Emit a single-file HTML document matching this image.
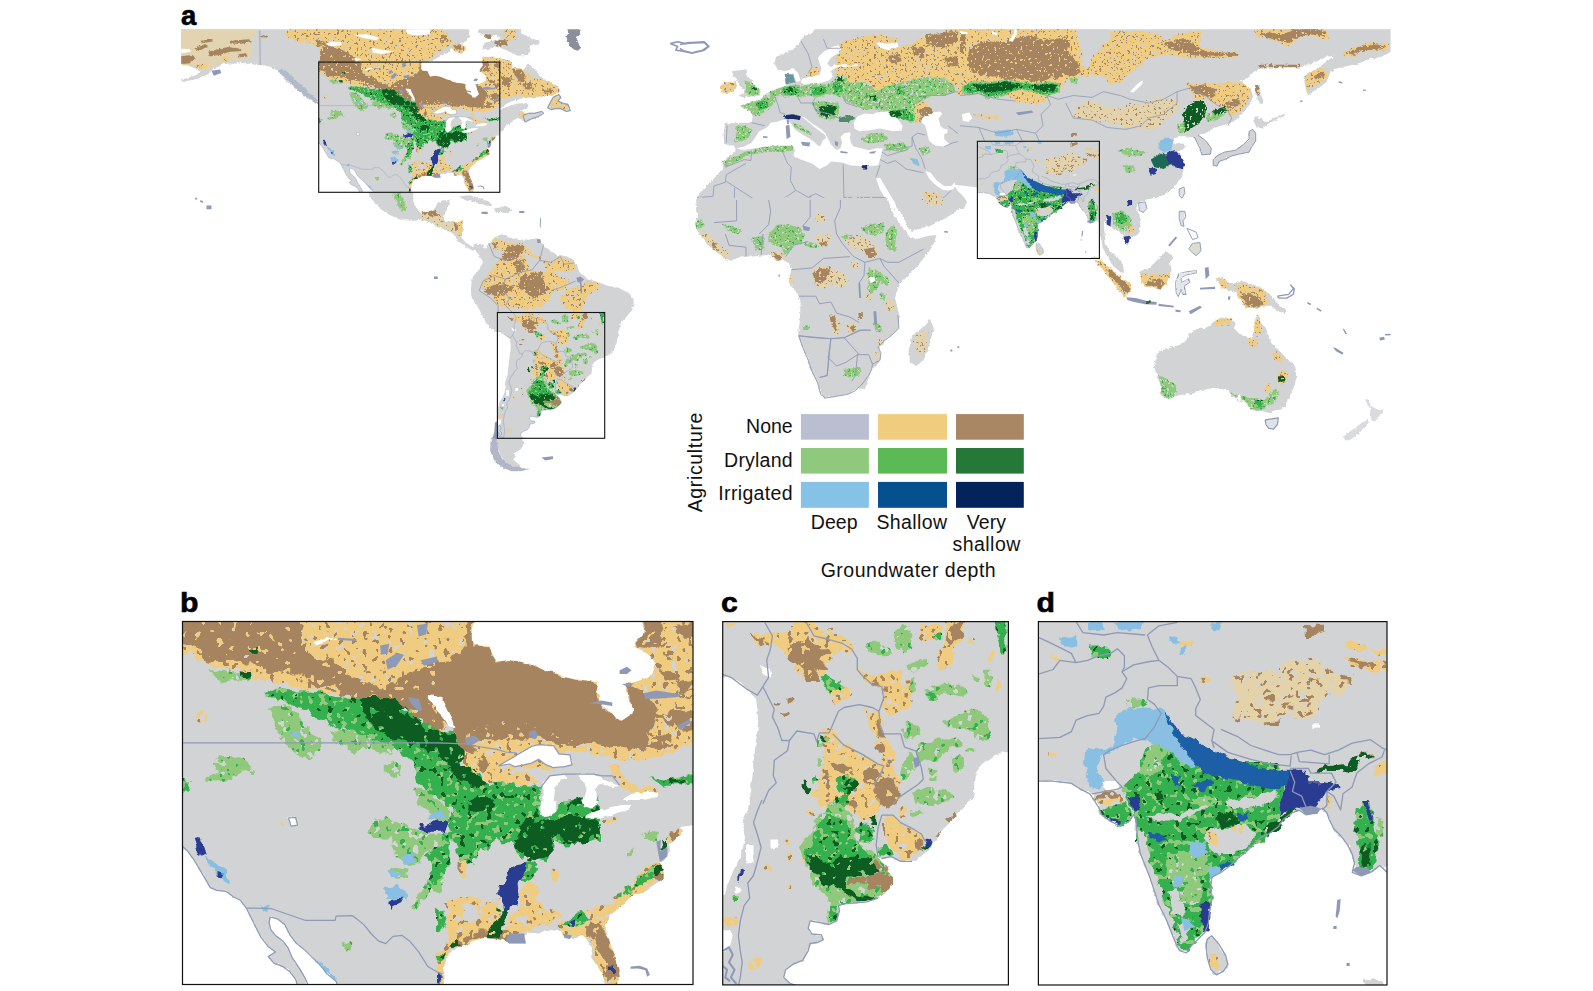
<!DOCTYPE html>
<html lang="en"><head><meta charset="utf-8"><title>Groundwater depth and agriculture</title>
<style>html,body{margin:0;padding:0;background:#fff}body{width:1593px;height:991px;overflow:hidden}svg{display:block}text{font-family:"Liberation Sans",sans-serif;fill:#111}.lab{font-weight:bold;font-size:27.5px;fill:#000;stroke:#000;stroke-width:0.6px}</style></head><body>
<svg width="1593" height="991" viewBox="0 0 1593 991">
<defs>
<filter id="f1" x="-3%" y="-3%" width="106%" height="106%">
 <feTurbulence type="fractalNoise" baseFrequency="0.090" numOctaves="2" seed="3" result="n"/>
 <feDisplacementMap in="SourceGraphic" in2="n" scale="14.0" xChannelSelector="R" yChannelSelector="G" result="d"/>
 
 <feTurbulence type="fractalNoise" baseFrequency="0.160" numOctaves="2" seed="17" result="s1n"/>
 <feColorMatrix in="s1n" type="matrix" values="0 0 0 0 0  0 0 0 0 0  0 0 0 0 0  40 0 0 0 -25.80" result="s1m"/>
 <feFlood flood-color="#a6845f" result="s1f"/>
 <feComposite in="s1f" in2="s1m" operator="in" result="s1c"/>
 <feComposite in="s1c" in2="d" operator="in" result="s1"/>
 
 <feTurbulence type="fractalNoise" baseFrequency="0.140" numOctaves="2" seed="29" result="s2n"/>
 <feColorMatrix in="s2n" type="matrix" values="0 0 0 0 0  0 0 0 0 0  0 0 0 0 0  40 0 0 0 -26.40" result="s2m"/>
 <feFlood flood-color="#d2d3d4" result="s2f"/>
 <feComposite in="s2f" in2="s2m" operator="in" result="s2c"/>
 <feComposite in="s2c" in2="d" operator="in" result="s2"/>
 <feMerge><feMergeNode in="d"/><feMergeNode in="s2"/><feMergeNode in="s1"/></feMerge>
</filter>
<filter id="f2" x="-3%" y="-3%" width="106%" height="106%">
 <feTurbulence type="fractalNoise" baseFrequency="0.090" numOctaves="2" seed="11" result="n"/>
 <feDisplacementMap in="SourceGraphic" in2="n" scale="14.0" xChannelSelector="R" yChannelSelector="G" result="d"/>
 <feTurbulence type="fractalNoise" baseFrequency="0.130" numOctaves="2" seed="5" result="n2"/>
 <feColorMatrix in="n2" type="matrix" values="0 0 0 0 0  0 0 0 0 0  0 0 0 0 0  40 0 0 0 -26.5" result="m"/>
 <feComposite in="d" in2="m" operator="out"/>
</filter>
<filter id="f3" x="-3%" y="-3%" width="106%" height="106%">
 <feTurbulence type="fractalNoise" baseFrequency="0.120" numOctaves="2" seed="8" result="n"/>
 <feDisplacementMap in="SourceGraphic" in2="n" scale="9.0" xChannelSelector="R" yChannelSelector="G"/>
</filter>
<filter id="f5" x="-3%" y="-3%" width="106%" height="106%">
 <feTurbulence type="fractalNoise" baseFrequency="0.120" numOctaves="2" seed="8" result="n"/>
 <feDisplacementMap in="SourceGraphic" in2="n" scale="9.0" xChannelSelector="R" yChannelSelector="G" result="d"/>
 
 <feTurbulence type="fractalNoise" baseFrequency="0.150" numOctaves="2" seed="41" result="s1n"/>
 <feColorMatrix in="s1n" type="matrix" values="0 0 0 0 0  0 0 0 0 0  0 0 0 0 0  40 0 0 0 -26.60" result="s1m"/>
 <feFlood flood-color="#0b5b20" result="s1f"/>
 <feComposite in="s1f" in2="s1m" operator="in" result="s1c"/>
 <feComposite in="s1c" in2="d" operator="in" result="s1"/>
 
 <feTurbulence type="fractalNoise" baseFrequency="0.150" numOctaves="2" seed="53" result="s2n"/>
 <feColorMatrix in="s2n" type="matrix" values="0 0 0 0 0  0 0 0 0 0  0 0 0 0 0  40 0 0 0 -24.40" result="s2m"/>
 <feFlood flood-color="#90c97c" result="s2f"/>
 <feComposite in="s2f" in2="s2m" operator="in" result="s2c"/>
 <feComposite in="s2c" in2="d" operator="in" result="s2"/>
 <feMerge><feMergeNode in="d"/><feMergeNode in="s2"/><feMergeNode in="s1"/></feMerge>
</filter>
<filter id="f6" x="-3%" y="-3%" width="106%" height="106%">
 <feTurbulence type="fractalNoise" baseFrequency="0.120" numOctaves="2" seed="9" result="n"/>
 <feDisplacementMap in="SourceGraphic" in2="n" scale="9.0" xChannelSelector="R" yChannelSelector="G" result="d"/>
 
 <feTurbulence type="fractalNoise" baseFrequency="0.150" numOctaves="2" seed="61" result="s1n"/>
 <feColorMatrix in="s1n" type="matrix" values="0 0 0 0 0  0 0 0 0 0  0 0 0 0 0  40 0 0 0 -25.20" result="s1m"/>
 <feFlood flood-color="#d2d3d4" result="s1f"/>
 <feComposite in="s1f" in2="s1m" operator="in" result="s1c"/>
 <feComposite in="s1c" in2="d" operator="in" result="s1"/>
 
 <feTurbulence type="fractalNoise" baseFrequency="0.150" numOctaves="2" seed="67" result="s2n"/>
 <feColorMatrix in="s2n" type="matrix" values="0 0 0 0 0  0 0 0 0 0  0 0 0 0 0  40 0 0 0 -26.00" result="s2m"/>
 <feFlood flood-color="#35b04f" result="s2f"/>
 <feComposite in="s2f" in2="s2m" operator="in" result="s2c"/>
 <feComposite in="s2c" in2="d" operator="in" result="s2"/>
 <feMerge><feMergeNode in="d"/><feMergeNode in="s1"/><feMergeNode in="s2"/></feMerge>
</filter>
<filter id="f4" x="-3%" y="-3%" width="106%" height="106%">
 <feTurbulence type="fractalNoise" baseFrequency="0.150" numOctaves="2" seed="21" result="n"/>
 <feDisplacementMap in="SourceGraphic" in2="n" scale="4.0" xChannelSelector="R" yChannelSelector="G"/>
</filter>

<filter id="f1w" x="-3%" y="-3%" width="106%" height="106%">
 <feTurbulence type="fractalNoise" baseFrequency="0.237" numOctaves="2" seed="3" result="n"/>
 <feDisplacementMap in="SourceGraphic" in2="n" scale="5.3" xChannelSelector="R" yChannelSelector="G" result="d"/>
 
 <feTurbulence type="fractalNoise" baseFrequency="0.421" numOctaves="2" seed="17" result="s1n"/>
 <feColorMatrix in="s1n" type="matrix" values="0 0 0 0 0  0 0 0 0 0  0 0 0 0 0  40 0 0 0 -25.80" result="s1m"/>
 <feFlood flood-color="#a6845f" result="s1f"/>
 <feComposite in="s1f" in2="s1m" operator="in" result="s1c"/>
 <feComposite in="s1c" in2="d" operator="in" result="s1"/>
 
 <feTurbulence type="fractalNoise" baseFrequency="0.368" numOctaves="2" seed="29" result="s2n"/>
 <feColorMatrix in="s2n" type="matrix" values="0 0 0 0 0  0 0 0 0 0  0 0 0 0 0  40 0 0 0 -26.40" result="s2m"/>
 <feFlood flood-color="#d2d3d4" result="s2f"/>
 <feComposite in="s2f" in2="s2m" operator="in" result="s2c"/>
 <feComposite in="s2c" in2="d" operator="in" result="s2"/>
 <feMerge><feMergeNode in="d"/><feMergeNode in="s2"/><feMergeNode in="s1"/></feMerge>
</filter>
<filter id="f2w" x="-3%" y="-3%" width="106%" height="106%">
 <feTurbulence type="fractalNoise" baseFrequency="0.237" numOctaves="2" seed="11" result="n"/>
 <feDisplacementMap in="SourceGraphic" in2="n" scale="5.3" xChannelSelector="R" yChannelSelector="G" result="d"/>
 <feTurbulence type="fractalNoise" baseFrequency="0.342" numOctaves="2" seed="5" result="n2"/>
 <feColorMatrix in="n2" type="matrix" values="0 0 0 0 0  0 0 0 0 0  0 0 0 0 0  40 0 0 0 -26.5" result="m"/>
 <feComposite in="d" in2="m" operator="out"/>
</filter>
<filter id="f3w" x="-3%" y="-3%" width="106%" height="106%">
 <feTurbulence type="fractalNoise" baseFrequency="0.316" numOctaves="2" seed="8" result="n"/>
 <feDisplacementMap in="SourceGraphic" in2="n" scale="3.4" xChannelSelector="R" yChannelSelector="G"/>
</filter>
<filter id="f5w" x="-3%" y="-3%" width="106%" height="106%">
 <feTurbulence type="fractalNoise" baseFrequency="0.316" numOctaves="2" seed="8" result="n"/>
 <feDisplacementMap in="SourceGraphic" in2="n" scale="3.4" xChannelSelector="R" yChannelSelector="G" result="d"/>
 
 <feTurbulence type="fractalNoise" baseFrequency="0.395" numOctaves="2" seed="41" result="s1n"/>
 <feColorMatrix in="s1n" type="matrix" values="0 0 0 0 0  0 0 0 0 0  0 0 0 0 0  40 0 0 0 -26.60" result="s1m"/>
 <feFlood flood-color="#0b5b20" result="s1f"/>
 <feComposite in="s1f" in2="s1m" operator="in" result="s1c"/>
 <feComposite in="s1c" in2="d" operator="in" result="s1"/>
 
 <feTurbulence type="fractalNoise" baseFrequency="0.395" numOctaves="2" seed="53" result="s2n"/>
 <feColorMatrix in="s2n" type="matrix" values="0 0 0 0 0  0 0 0 0 0  0 0 0 0 0  40 0 0 0 -24.40" result="s2m"/>
 <feFlood flood-color="#90c97c" result="s2f"/>
 <feComposite in="s2f" in2="s2m" operator="in" result="s2c"/>
 <feComposite in="s2c" in2="d" operator="in" result="s2"/>
 <feMerge><feMergeNode in="d"/><feMergeNode in="s2"/><feMergeNode in="s1"/></feMerge>
</filter>
<filter id="f6w" x="-3%" y="-3%" width="106%" height="106%">
 <feTurbulence type="fractalNoise" baseFrequency="0.316" numOctaves="2" seed="9" result="n"/>
 <feDisplacementMap in="SourceGraphic" in2="n" scale="3.4" xChannelSelector="R" yChannelSelector="G" result="d"/>
 
 <feTurbulence type="fractalNoise" baseFrequency="0.395" numOctaves="2" seed="61" result="s1n"/>
 <feColorMatrix in="s1n" type="matrix" values="0 0 0 0 0  0 0 0 0 0  0 0 0 0 0  40 0 0 0 -25.20" result="s1m"/>
 <feFlood flood-color="#d2d3d4" result="s1f"/>
 <feComposite in="s1f" in2="s1m" operator="in" result="s1c"/>
 <feComposite in="s1c" in2="d" operator="in" result="s1"/>
 
 <feTurbulence type="fractalNoise" baseFrequency="0.395" numOctaves="2" seed="67" result="s2n"/>
 <feColorMatrix in="s2n" type="matrix" values="0 0 0 0 0  0 0 0 0 0  0 0 0 0 0  40 0 0 0 -26.00" result="s2m"/>
 <feFlood flood-color="#35b04f" result="s2f"/>
 <feComposite in="s2f" in2="s2m" operator="in" result="s2c"/>
 <feComposite in="s2c" in2="d" operator="in" result="s2"/>
 <feMerge><feMergeNode in="d"/><feMergeNode in="s1"/><feMergeNode in="s2"/></feMerge>
</filter>
<filter id="f4w" x="-3%" y="-3%" width="106%" height="106%">
 <feTurbulence type="fractalNoise" baseFrequency="0.395" numOctaves="2" seed="21" result="n"/>
 <feDisplacementMap in="SourceGraphic" in2="n" scale="1.5" xChannelSelector="R" yChannelSelector="G"/>
</filter>

<clipPath id="cb"><rect x="182.5" y="621.5" width="510.5" height="363.0" /></clipPath>
<clipPath id="cc"><rect x="722.7" y="621.6" width="285.7" height="363.3" /></clipPath>
<clipPath id="cd"><rect x="1038.4" y="621.6" width="348.6" height="363.4" /></clipPath>
<clipPath id="cw"><rect x="181.3" y="29.3" width="1209.3" height="450"/></clipPath>
<g id="pb" clip-path="url(#cb)"><path fill="#d2d3d4" filter="url(#f3)" d="M168.5,607.5L707.0,607.5L707.0,998.5L168.5,998.5Z"/>
<path fill="#efcc7f" filter="url(#f1)" d="M168.5,607.5L442.6,607.5L442.6,735.5L433.4,728.2L424.2,720.8L416.9,717.2L409.5,713.5L400.3,704.3L387.5,698.8L372.8,696.0L352.6,698.8L345.3,697.0L326.9,691.4L308.5,689.6L290.2,687.8L282.8,685.9L271.8,681.3L257.1,679.5L249.8,676.8L240.6,673.1L227.7,667.9L216.7,668.5L207.5,664.8L200.2,659.3L193.8,652.9L168.5,652.9ZM436.0,607.5L707.0,607.5L707.0,744.7L674.7,752.0L656.3,757.6L638.0,763.1L619.6,759.4L601.3,755.7L575.6,752.0L559.0,748.4L564.5,757.6L571.9,764.9L557.2,768.6L546.2,772.2L538.8,774.1L524.1,770.4L505.8,774.1L481.9,777.8L459.9,757.6L454.4,728.2L436.0,720.8ZM608.6,763.1L619.6,766.7L625.1,779.6L638.0,786.0L658.2,787.8L659.1,791.5L638.0,792.4L623.3,788.8L614.1,777.8ZM464.9,754.1L479.6,748.6L497.9,750.4L505.3,754.1L497.9,765.1L505.3,772.4L523.6,772.4L538.3,779.8L534.6,783.4L523.6,787.1L508.9,783.4L497.9,781.6L486.9,785.3L479.6,774.3L468.5,768.8L459.4,763.3L463.0,752.2ZM457.5,862.4L466.7,864.2L468.5,875.3L461.2,878.9L457.5,871.6ZM475.9,831.2L483.2,829.4L485.1,836.7L477.7,838.5ZM551.2,871.6L558.5,873.4L556.7,880.8L551.2,878.9ZM578.7,805.5L587.9,803.6L589.7,811.0L582.4,812.8ZM436.0,957.4L443.3,950.1L448.9,940.9L447.0,929.9L445.2,907.8L448.9,900.5L459.9,896.8L478.2,897.7L491.1,904.2L498.4,896.8L502.1,907.8L498.4,915.2L496.6,924.4L505.8,926.2L515.0,929.9L524.1,933.5L526.0,943.6L509.4,943.6L505.8,940.9L496.6,939.0L483.7,938.1L472.7,940.9L465.4,945.5L456.2,948.2L448.9,953.7L445.2,961.1L443.3,970.3L444.3,998.5L436.0,998.5ZM505.8,924.4L516.8,907.8L520.5,891.3L531.5,878.4L537.0,887.6L535.2,900.5L542.5,907.8L560.9,911.5L564.5,915.2L555.4,918.8L546.2,922.5L538.8,929.9L527.8,932.6L516.8,929.9ZM550.8,872.9L557.2,871.1L559.0,878.4L553.5,880.3ZM560.9,922.5L575.6,918.8L588.4,909.7L601.3,907.8L612.3,900.5L619.6,893.1L630.6,885.8L638.0,878.4L647.2,865.6L656.3,860.1L658.2,861.9L663.7,869.3L663.7,878.4L652.7,885.8L641.7,893.1L630.6,896.8L619.6,907.8L610.4,915.2L604.9,924.4L606.8,933.5L612.3,948.2L616.9,961.1L619.6,970.3L616.9,998.5L607.7,998.5L603.1,975.8L597.6,966.6L591.2,957.4L592.1,948.2L588.4,940.9L582.9,934.5L575.6,937.2L568.2,939.0L560.9,930.8ZM667.4,838.1L674.7,830.7L680.2,827.0L682.1,832.5L674.7,839.9L669.2,844.5ZM601.3,817.9L612.3,816.0L615.9,821.5L604.9,825.2ZM458.0,850.9L465.4,852.7L467.2,878.4L459.9,876.6ZM196.5,713.5L203.9,711.6L205.7,720.8L198.4,722.7Z"/>
<path fill="#d2d3d4" filter="url(#f3)" d="M461.7,904.2L478.2,906.0L481.9,917.0L472.7,922.5L461.7,918.8ZM516.8,915.2L527.8,917.0L526.0,924.4L518.6,924.4ZM505.3,772.4L516.3,766.9L531.0,768.8L545.7,770.6L547.5,776.1L538.3,779.8L523.6,772.4Z"/>
<path fill="#a6845f" filter="url(#f2)" d="M168.5,607.5L297.5,607.5L301.2,630.9L306.7,641.9L304.9,647.4L314.0,656.6L326.9,663.9L332.4,660.2L341.6,665.7L345.3,676.8L363.6,678.6L372.8,685.9L382.0,687.8L393.0,680.4L409.5,673.1L424.2,667.6L442.6,663.9L442.6,735.5L433.4,728.2L424.2,720.8L409.5,713.5L400.3,704.3L387.5,698.8L372.8,696.0L352.6,698.8L341.6,691.4L337.9,682.3L326.9,687.8L314.0,684.1L308.5,680.4L297.5,674.9L290.2,673.1L290.2,667.6L282.8,671.3L271.8,673.1L262.6,669.4L253.4,662.1L247.9,665.7L235.1,662.1L225.9,663.9L216.7,663.9L209.4,662.1L203.9,656.6L202.0,649.2L191.0,645.5L168.5,641.9Z"/>
<path fill="#a6845f" filter="url(#f3)" d="M465.4,607.5L477.3,607.5L471.8,629.0L471.8,640.0L474.6,645.2L489.3,646.5L492.9,654.7L496.6,661.7L509.4,659.9L518.6,661.2L531.5,663.9L542.5,669.4L553.5,672.2L562.7,676.8L575.6,679.5L586.6,680.4L597.6,682.3L595.8,690.5L598.5,695.1L599.4,700.6L603.1,706.1L612.3,713.5L616.9,719.0L621.5,720.8L632.5,713.5L633.4,709.8L628.8,698.8L627.0,689.6L625.1,684.1L634.3,685.9L643.5,691.4L649.0,698.8L656.3,704.3L658.2,713.5L654.5,724.5L649.0,731.8L647.2,742.9L643.5,752.0L634.3,748.4L619.6,746.5L610.4,748.4L601.3,744.7L592.1,742.9L582.9,741.9L573.7,740.7L564.5,739.2L555.4,736.4L546.2,733.7L540.7,729.1L531.5,728.2L524.1,723.6L516.8,720.8L509.4,722.7L500.3,719.9L491.1,724.5L481.9,726.3L472.7,730.0L469.1,733.7L465.4,737.4L472.7,746.5L478.2,752.0L465.4,753.9L461.7,746.5L454.4,744.7L454.4,728.2L447.0,722.7L436.0,720.8L436.0,662.1L447.0,660.2L458.0,654.7L465.4,645.5L467.2,632.7Z"/>
<path fill="#a6845f" filter="url(#f2)" d="M469.1,731.8L491.1,720.8L516.8,717.2L531.5,724.5L546.2,731.8L564.5,737.4L582.9,741.0L582.9,747.5L564.5,745.6L546.2,741.0L531.5,739.2L516.8,737.4L500.3,738.3L481.9,740.1L469.1,738.3ZM639.8,607.5L656.3,607.5L665.5,629.0L661.9,636.4L667.4,643.7L656.3,649.2L647.2,647.4L636.1,645.5L638.0,640.0L645.3,630.9ZM674.7,623.5L707.0,623.5L707.0,640.0L683.9,636.4L678.4,629.0ZM661.9,671.3L674.7,673.1L680.2,680.4L671.0,682.3L663.7,678.6ZM674.7,682.3L707.0,678.6L707.0,695.1L682.1,691.4ZM660.0,713.5L674.7,709.8L707.0,713.5L707.0,728.2L680.2,731.8L674.7,724.5L665.5,722.7L658.2,717.2ZM656.3,733.7L674.7,735.5L672.9,746.5L661.9,750.2L649.0,746.5ZM663.7,651.1L674.7,652.9L672.9,660.2L665.5,660.2ZM479.6,765.1L486.9,763.3L490.6,772.4L483.2,774.3ZM476.4,761.2L483.7,759.4L487.4,770.4L481.9,774.1ZM450.7,946.4L456.2,939.0L465.4,937.2L472.7,933.5L487.4,931.7L496.6,929.9L509.4,931.7L515.0,933.5L513.1,939.0L496.6,939.0L483.7,938.1L472.7,940.9L465.4,945.5L456.2,948.2ZM590.2,922.5L597.6,924.4L601.3,933.5L606.8,937.2L610.4,948.2L615.9,951.9L616.9,961.1L619.6,970.3L617.8,977.6L608.6,979.4L604.9,970.3L608.6,961.1L601.3,955.6L597.6,946.4L592.1,940.9L586.6,933.5ZM652.7,878.4L656.3,865.6L661.9,867.4L663.7,878.4L656.3,884.0ZM669.2,836.2L678.4,828.9L681.1,834.4L672.9,841.7Z"/>
<path fill="#90c97c" filter="url(#f6)" d="M209.4,671.3L225.9,669.4L240.6,673.1L249.8,676.8L247.9,681.3L235.1,680.4L222.2,683.2L218.6,678.6L211.2,674.0ZM268.1,709.8L275.5,704.3L290.2,706.1L297.5,713.5L301.2,720.8L308.5,728.2L312.2,735.5L319.6,739.2L321.4,746.5L315.9,753.9L308.5,759.4L299.4,757.6L292.0,750.2L288.3,744.7L279.2,739.2L282.8,733.7L275.5,726.3L271.8,717.2ZM205.7,779.6L216.7,774.1L214.9,764.9L218.6,753.9L227.7,755.7L240.6,757.6L247.9,763.1L255.3,772.2L253.4,774.1L242.4,770.4L233.3,775.9L222.2,781.4L211.2,781.4ZM383.8,764.9L393.0,761.2L402.2,764.9L400.3,774.1L391.2,775.9L383.8,772.2ZM330.6,731.8L363.6,730.0L382.0,739.2L391.2,746.5L363.6,746.5L354.4,753.9L345.3,746.5L332.4,741.0ZM340.0,724.7L358.4,733.9L376.7,739.4L395.1,746.7L391.4,754.1L376.7,750.4L358.4,746.7L340.0,739.4ZM384.1,765.1L395.1,761.4L402.4,766.9L400.6,774.3L389.6,776.1L384.1,772.4ZM413.4,787.1L426.3,790.8L439.2,801.8L450.2,809.2L450.2,823.8L439.2,820.2L428.1,812.8L419.0,801.8ZM367.5,829.4L373.1,820.2L387.7,818.3L400.6,823.8L417.1,827.5L428.1,833.0L442.8,834.9L450.2,831.2L453.8,812.8L450.2,805.5L457.5,798.1L468.5,809.2L479.6,820.2L490.6,827.5L486.9,838.5L479.6,842.2L468.5,838.5L457.5,842.2L450.2,838.5L448.3,845.9L450.2,856.9L439.2,849.6L426.3,849.6L422.6,855.1L419.0,862.4L409.8,866.1L402.4,862.4L395.1,855.1L391.4,845.9L393.3,838.5L382.2,838.5L371.2,836.7ZM387.7,871.6L395.1,867.9L409.8,869.8L407.9,875.3L395.1,877.1ZM426.1,878.4L442.6,874.8L442.6,893.1L431.6,891.3L424.2,900.5L416.9,909.7L411.4,907.8L418.7,896.8L424.2,887.6ZM641.7,834.4L650.8,830.7L660.0,832.5L656.3,839.9L645.3,839.9ZM627.0,850.9L634.3,847.2L632.5,852.7L627.0,855.5ZM343.4,942.7L350.8,940.9L352.6,950.1L345.3,951.9Z"/>
<path fill="#35b04f" filter="url(#f5)" d="M264.5,693.3L275.5,687.8L290.2,689.6L297.5,691.4L308.5,691.4L326.9,693.3L345.3,698.8L363.6,698.8L387.5,698.8L409.5,713.5L440.0,731.8L442.6,801.6L416.9,783.3L415.0,764.9L400.3,750.2L382.0,742.9L363.6,735.5L352.6,728.2L337.9,728.2L326.9,720.8L312.2,717.2L308.5,709.8L293.8,706.1L282.8,700.6L268.1,697.0ZM340.0,710.0L409.8,710.0L417.1,721.0L431.8,730.2L453.8,732.0L457.5,743.1L463.0,752.2L459.4,763.3L468.5,768.8L479.6,774.3L486.9,785.3L497.9,781.6L508.9,783.4L523.6,787.1L534.6,783.4L542.0,785.3L540.1,796.3L538.3,809.2L542.0,816.5L553.0,812.8L564.0,801.8L578.7,798.1L593.4,794.5L600.0,801.8L600.0,842.2L593.4,838.5L584.2,844.0L578.7,840.4L571.4,842.2L565.9,847.7L560.3,845.9L553.0,838.5L551.2,849.6L547.5,860.6L534.6,856.9L523.6,856.9L516.3,851.4L512.6,842.2L501.6,842.2L494.2,836.7L492.4,845.9L486.9,849.6L479.6,849.6L475.9,856.9L468.5,864.2L461.2,860.6L457.5,853.2L453.8,838.5L450.2,836.7L448.3,845.9L450.2,856.9L446.5,866.1L442.8,875.3L435.5,880.8L428.1,889.9L424.5,886.3L430.0,875.3L431.8,866.1L428.1,856.9L422.6,855.1L426.3,849.6L439.2,849.6L442.8,838.5L450.2,831.2L446.5,820.2L453.8,812.8L450.2,805.5L442.8,801.8L435.5,796.3L428.1,790.8L420.8,783.4L415.3,774.3L417.1,765.1L409.8,757.7L402.4,752.2L395.1,746.7L384.1,741.2L369.4,737.5L358.4,733.9L347.3,728.4L340.0,724.7ZM527.3,862.4L534.6,864.2L537.4,869.8L532.8,877.1L523.6,881.7L519.9,877.1L525.5,869.8ZM634.3,882.1L641.7,874.8L649.0,867.4L654.5,865.6L652.7,878.4L641.7,885.8L634.3,887.6ZM623.3,887.6L630.6,885.8L632.5,893.1L625.1,895.0ZM615.9,893.1L621.5,891.3L621.5,896.8L616.9,897.7ZM560.9,924.4L571.9,917.0L582.9,911.5L590.2,918.8L582.9,924.4L571.9,926.2ZM437.8,957.4L445.2,951.9L443.3,961.1L437.8,962.9ZM436.0,907.8L443.3,911.5L447.0,922.5L441.5,929.9L436.0,931.7ZM436.0,849.1L447.0,847.2L448.9,863.8L447.0,872.9L436.0,882.1ZM459.9,849.1L472.7,841.7L480.1,847.2L472.7,852.7L474.6,863.8L467.2,865.6L459.9,858.3ZM168.5,777.8L191.0,781.4L187.3,792.4L168.5,792.4ZM649.0,775.9L661.9,779.6L674.7,777.8L707.0,770.4L707.0,783.3L674.7,783.3L663.7,786.9L656.3,781.4Z"/>
<path fill="#0b5b20" filter="url(#f2)" d="M348.9,698.8L363.6,697.0L387.5,697.0L400.3,704.3L409.5,713.5L418.7,720.8L433.4,728.2L442.6,735.5L442.6,757.6L427.9,750.2L415.0,742.9L400.3,739.2L389.3,737.4L382.0,728.2L371.0,720.8L363.6,713.5L359.9,706.1L348.9,702.5ZM240.6,671.3L249.8,672.2L250.7,678.6L242.4,677.7ZM247.9,647.4L257.1,648.3L255.3,652.9L248.9,652.0ZM363.9,710.0L384.1,710.0L395.1,717.3L404.3,724.7L413.4,730.2L426.3,733.9L439.2,732.0L453.8,732.0L457.5,743.1L463.0,752.2L459.4,763.3L468.5,768.8L479.6,774.3L483.2,783.4L479.6,789.0L468.5,783.4L459.4,779.8L453.8,772.4L446.5,765.1L439.2,759.6L431.8,750.4L422.6,744.9L413.4,741.2L402.4,737.5L391.4,739.4L382.2,733.9L373.1,724.7L365.7,717.3ZM468.5,800.0L479.6,794.5L490.6,796.3L492.4,803.6L485.1,811.0L475.9,812.8L468.5,809.2ZM518.1,834.9L523.6,827.5L531.0,822.0L538.3,818.3L547.5,820.2L560.3,816.5L571.4,818.3L584.2,816.5L593.4,820.2L600.0,823.8L600.0,834.9L593.4,836.7L584.2,842.2L578.7,838.5L569.5,836.7L560.3,838.5L553.0,836.7L551.2,845.9L547.5,855.1L538.3,855.1L529.1,851.4L519.9,847.7ZM567.7,800.0L578.7,798.1L587.9,794.5L593.4,798.1L586.1,805.5L575.0,807.3ZM516.8,827.0L527.8,821.5L538.8,823.4L553.5,819.7L564.5,816.0L575.6,816.0L582.9,817.9L593.9,819.7L599.4,823.4L593.9,834.4L586.6,841.7L579.2,843.6L571.9,839.9L564.5,841.7L560.9,836.2L549.8,838.1L546.2,845.4L549.8,856.4L544.3,860.1L535.2,858.3L527.8,856.4L520.5,852.7L516.8,845.4L518.6,836.2ZM498.4,909.7L505.8,907.8L509.4,911.5L505.8,918.8L502.1,926.2L503.9,933.5L498.4,935.4L489.3,935.4L487.4,931.7L494.8,926.2L498.4,918.8ZM452.5,940.9L458.0,939.0L459.9,946.4L454.4,948.2ZM660.0,839.9L666.4,838.1L667.4,847.2L661.9,850.9ZM654.5,867.4L661.9,865.6L661.9,872.9L656.3,874.8ZM663.7,779.6L674.7,777.8L680.2,779.6L671.0,783.3Z"/>
<path fill="#88bfe2" filter="url(#f3)" d="M430.0,812.8L441.0,810.1L444.7,816.5L435.5,820.2L428.1,818.3ZM400.6,856.9L413.4,855.1L415.3,860.6L404.3,863.3ZM387.7,869.8L400.6,871.6L402.4,876.2L391.4,877.1ZM384.1,887.2L398.8,886.3L400.6,893.6L384.1,893.6ZM385.7,889.5L396.7,886.7L407.7,893.1L405.9,900.5L396.7,898.6L387.5,900.5ZM203.9,856.4L213.1,860.1L225.9,869.3L229.6,882.1L224.1,882.1L216.7,874.8L209.4,865.6ZM288.3,733.7L299.4,732.8L300.3,736.4L290.2,737.4ZM259.0,904.2L270.0,905.1L268.1,913.3L262.6,911.5ZM314.0,959.2L323.2,964.8L336.1,979.4L334.2,982.2L323.2,972.1L314.0,962.9Z"/>
<path fill="#2a3a92" filter="url(#f3)" d="M417.1,824.8L426.3,825.7L435.5,822.0L444.7,819.3L447.4,825.7L444.7,831.2L435.5,832.1L426.3,831.2L419.0,828.4ZM518.6,863.8L526.9,862.8L526.0,869.3L522.3,876.6L518.6,884.0L519.5,895.0L516.8,904.2L509.4,909.7L503.9,907.8L503.0,898.6L498.4,893.1L498.4,887.6L503.9,884.0L505.8,876.6L511.3,869.3ZM193.8,839.0L199.3,838.1L203.0,847.2L205.7,854.6L200.2,856.4L196.5,847.2ZM217.6,872.0L223.2,873.9L221.3,877.5L217.6,876.6ZM389.3,904.2L393.0,898.6L402.2,897.7L398.5,904.2L391.2,908.7ZM609.5,966.6L615.9,966.6L615.9,972.1L609.5,972.1ZM570.0,920.7L575.6,920.7L574.6,926.2L570.0,925.3ZM436.0,973.9L441.5,974.8L442.4,981.3L436.0,982.2Z"/>
<path fill="#ffffff" filter="url(#f4)" d="M477.3,607.5L639.8,607.5L645.3,630.9L636.1,641.9L635.2,647.4L643.5,651.1L650.8,656.6L655.4,663.9L652.7,673.1L645.3,678.6L634.3,682.3L625.1,684.1L627.0,689.6L628.8,698.8L633.4,709.8L632.5,713.5L621.5,720.8L616.9,719.0L612.3,713.5L603.1,706.1L599.4,700.6L598.5,695.1L595.8,690.5L597.6,682.3L586.6,680.4L575.6,679.5L562.7,676.8L553.5,672.2L542.5,669.4L531.5,663.9L518.6,661.2L509.4,659.9L496.6,661.7L492.9,654.7L489.3,646.5L474.6,645.2L471.8,640.0L471.8,629.0ZM168.5,846.3L187.3,850.9L192.9,858.3L198.4,867.4L203.9,876.6L210.3,887.6L216.7,890.4L225.9,891.3L233.3,896.8L240.6,900.5L246.1,907.8L250.7,917.0L256.2,928.0L260.8,937.2L268.1,946.4L275.5,951.9L268.1,956.5L273.6,962.9L282.8,966.6L290.2,972.1L295.7,979.4L297.5,998.5L168.5,998.5ZM270.0,917.0L277.3,918.8L284.7,924.4L290.2,935.4L295.7,942.7L304.9,950.1L312.2,957.4L321.4,966.6L326.9,973.9L336.1,981.3L337.9,998.5L308.5,998.5L304.9,977.6L299.4,968.4L292.0,957.4L288.3,948.2L282.8,940.9L275.5,935.4L270.9,929.9L269.1,922.5ZM444.3,998.5L443.3,970.3L445.2,961.1L448.9,953.7L456.2,948.2L465.4,945.5L472.7,940.9L483.7,938.1L496.6,939.0L505.8,940.9L509.4,943.6L526.0,943.6L524.1,937.2L527.8,932.6L538.8,933.5L546.2,929.9L560.9,930.8L568.2,939.0L575.6,937.2L582.9,934.5L588.4,940.9L592.1,948.2L591.2,957.4L597.6,966.6L603.1,975.8L607.7,998.5ZM616.9,998.5L619.6,970.3L616.9,961.1L612.3,948.2L606.8,933.5L604.9,924.4L610.4,915.2L619.6,907.8L630.6,896.8L641.7,893.1L652.7,885.8L663.7,878.4L663.7,869.3L658.2,861.9L663.7,860.1L670.1,850.9L669.2,844.5L674.7,839.9L682.1,832.5L680.2,827.0L707.0,823.4L707.0,998.5ZM498.4,765.8L509.4,759.4L518.6,753.9L531.5,746.5L538.8,744.7L553.5,745.6L559.0,753.9L570.0,754.8L571.9,764.9L564.5,766.7L553.5,767.7L546.2,764.9L538.8,759.4L531.5,763.1L524.1,764.9L515.0,766.7L509.4,764.0ZM542.5,785.1L549.8,775.9L564.5,774.1L568.2,777.8L560.9,779.6L555.4,786.9L553.5,801.6L542.5,801.6ZM540.7,801.3L556.3,801.3L555.4,812.3L549.8,816.0L544.3,816.9L540.7,812.3ZM575.6,774.1L593.9,774.1L601.3,775.9L603.1,779.6L612.3,783.3L619.6,786.0L612.3,786.9L601.3,783.3L595.8,788.8L597.6,801.6L582.9,801.6L586.6,790.6L584.7,783.3L579.2,777.8ZM582.0,799.5L598.5,799.5L595.8,805.0L592.1,808.7L584.7,806.8ZM623.3,800.0L630.6,794.3L647.2,791.5L658.2,792.4L656.3,797.0L643.5,800.0ZM584.7,816.0L592.1,812.3L601.3,809.6L612.3,806.8L623.3,805.0L632.5,805.0L628.8,808.7L619.6,812.3L608.6,816.0L599.4,818.8L590.2,818.8ZM436.0,696.0L441.5,698.8L447.0,709.8L452.5,720.8L454.4,728.2L448.9,726.3L443.3,717.2L436.0,709.8ZM427.9,695.1L442.6,697.0L442.6,706.1L433.4,704.3L427.9,698.8ZM312.2,641.9L326.9,637.3L337.9,638.2L326.9,641.0L315.9,645.5ZM288.3,817.9L295.7,817.5L297.5,825.2L291.1,826.1Z"/>
<path fill="#8e99b7" d="M337.9,637.8L356.3,639.1L356.3,641.0L337.9,640.0ZM416.9,625.3L427.9,623.5L426.1,634.5L418.7,636.4ZM380.1,645.5L389.3,643.7L387.5,653.8L381.1,654.7ZM385.7,660.2L396.7,652.9L404.0,654.7L396.7,665.7L387.5,669.4ZM420.5,660.2L437.1,656.6L437.1,662.1L424.2,665.7ZM407.7,697.0L418.7,698.8L422.4,709.8L418.7,711.6L411.4,704.3ZM619.6,670.3L627.0,666.7L631.6,670.3L627.0,674.0L619.6,674.0ZM588.4,703.4L601.3,700.6L612.3,702.5L612.3,706.1L601.3,704.3ZM621.5,684.1L634.3,683.2L628.8,686.9ZM643.5,693.3L656.3,690.5L680.2,694.2L678.4,697.0L656.3,698.8L645.3,698.8ZM676.5,726.3L689.4,719.0L691.2,722.7L680.2,730.0ZM528.7,731.8L535.2,730.0L537.9,735.5L535.2,739.2L529.6,737.4ZM465.4,737.4L474.6,735.5L480.1,740.1L472.7,744.7L465.4,742.9ZM656.3,841.7L660.9,839.9L660.0,850.9L667.4,847.2L667.4,856.4L660.0,861.9L658.2,852.7ZM509.4,933.5L524.1,933.5L526.0,943.6L509.4,943.6L505.8,940.9ZM562.7,933.5L571.9,935.4L570.0,939.0L564.5,938.1ZM630.6,966.6L639.8,965.7L647.2,968.4L649.9,974.8L647.2,976.7L645.3,970.3L638.0,968.4L630.6,968.8Z"/>
<path fill="none" stroke="#8e99b7" stroke-width="1.2" stroke-linejoin="round" d="M182.6,742.9L442.6,742.9M436.0,742.9L465.4,743.8L478.2,746.5L496.6,749.3L505.8,752.0L516.8,753.0M246.1,907.8L271.8,908.7L304.9,920.3L335.2,920.3L336.1,916.1L352.6,915.7L363.6,924.4L371.0,933.5L378.3,940.9L385.7,943.6L393.0,936.3L402.2,935.4L409.5,940.9L418.7,951.9L427.9,966.6L437.1,972.1L442.6,973.9M182.6,846.3L187.3,850.9L192.9,858.3L198.4,867.4L203.9,876.6L210.3,887.6L216.7,890.4L225.9,891.3L233.3,896.8L240.6,900.5L246.1,907.8L250.7,917.0L256.2,928.0L260.8,937.2L268.1,946.4L275.5,951.9L268.1,956.5L273.6,962.9L282.8,966.6L290.2,972.1L295.7,979.4L297.5,985.9M337.9,985.9L336.1,981.3L326.9,973.9L321.4,966.6L312.2,957.4L304.9,950.1L295.7,942.7L290.2,935.4L284.7,924.4L277.3,918.8L270.0,917.0L269.1,922.5L270.9,929.9L275.5,935.4L282.8,940.9L288.3,948.2L292.0,957.4L299.4,968.4L304.9,977.6L308.5,985.9M498.4,765.8L509.4,759.4L518.6,753.9L531.5,746.5L538.8,744.7L553.5,745.6L559.0,753.9L570.0,754.8L571.9,764.9L564.5,766.7L553.5,767.7L546.2,764.9L538.8,759.4L531.5,763.1L524.1,764.9L515.0,766.7L509.4,764.0L498.4,765.8M542.5,785.1L549.8,775.9L564.5,774.1L575.6,774.1L593.9,774.1L601.3,775.9L612.3,775.9L619.6,785.1M288.3,817.9L295.7,817.5L297.5,825.2L291.1,826.1L288.3,817.9"/>
<path fill="#efcc7f" filter="url(#f1)" d="M281.0,820.6L285.6,821.2L285.0,825.2L281.4,824.8Z"/></g>
<g id="pc" clip-path="url(#cc)"><path fill="#d2d3d4" filter="url(#f3)" d="M708.7,607.6L1022.4,607.6L1022.4,998.9L708.7,998.9Z"/>
<path fill="#efcc7f" filter="url(#f1)" d="M747.8,634.8L774.3,633.9L791.2,626.3L806.3,607.6L817.7,628.2L832.8,630.1L844.1,639.5L851.6,645.2L847.8,650.8L836.5,652.7L832.8,660.3L825.2,667.8L821.4,675.4L817.7,681.0L806.3,681.0L800.7,671.6L795.0,662.2L787.5,654.6L779.9,647.1L768.6,645.2L757.3,643.3L749.7,639.5ZM827.1,686.7L847.8,686.7L851.6,694.2L844.1,699.9L832.8,703.7L827.1,696.1ZM859.2,660.3L862.9,671.6L876.2,675.4L889.4,671.6L900.7,669.7L910.1,679.2L912.0,694.2L908.2,703.7L900.7,711.2L891.2,715.0L881.8,709.3L885.6,698.0L881.8,688.6L872.4,684.8L864.8,681.0L859.2,671.6ZM862.9,707.5L874.3,709.3L881.8,716.9L883.7,728.2L881.8,737.6L874.3,737.6L872.4,728.2L866.7,716.9ZM919.5,626.3L938.4,624.4L942.2,633.9L934.6,641.4L927.1,643.3L919.5,637.6ZM944.1,607.6L964.8,607.6L962.9,633.9L955.4,647.1L951.6,658.4L947.8,665.9L938.4,667.8L936.5,660.3L942.2,649.0L946.0,637.6ZM823.3,732.0L830.9,728.2L836.5,735.8L844.1,745.2L855.4,750.8L866.7,756.5L876.2,760.3L881.8,764.1L885.6,754.6L881.8,747.1L874.3,747.1L876.2,739.5L885.6,739.5L891.2,747.1L893.1,762.2L896.9,773.5L898.8,784.8L898.8,803.7L817.7,803.7L813.9,792.4L817.7,781.0L821.4,769.7L825.2,758.4L823.3,747.1ZM727.1,623.5L734.6,623.5L734.6,628.2L727.1,628.2ZM991.2,652.7L995.0,652.7L995.0,662.2L991.2,662.2ZM995.0,679.2L999.7,679.2L999.7,688.6L995.0,688.6ZM966.7,635.8L972.4,635.8L972.4,643.3L966.7,643.3ZM825.2,798.1L832.8,798.1L829.0,811.3L825.2,811.3ZM844.1,798.1L881.8,798.1L878.0,815.1L872.4,818.9L862.9,818.9L855.4,815.1L847.8,811.3ZM881.8,817.0L893.1,815.1L900.7,822.6L912.0,828.3L921.4,834.0L925.2,841.5L921.4,852.8L912.0,856.6L900.7,856.6L893.1,850.9L885.6,841.5L881.8,830.2ZM898.8,807.5L908.2,809.4L908.2,815.1L900.7,815.1ZM727.1,915.1L736.5,913.2L736.5,924.5L729.0,930.2L725.2,924.5ZM764.8,864.2L772.4,864.2L772.4,871.7L764.8,871.7ZM785.6,837.7L791.2,837.7L791.2,845.3L785.6,845.3ZM787.5,852.8L793.1,852.8L793.1,860.4L787.5,860.4ZM787.5,883.0L793.1,883.0L793.1,888.7L787.5,888.7ZM749.7,960.4L759.2,958.5L759.2,967.9L749.7,967.9ZM804.5,811.3L813.9,809.4L813.9,815.1L804.5,816.0ZM802.6,854.7L806.3,852.8L808.2,862.3L803.5,864.2Z"/>
<path fill="#a6845f" filter="url(#f2)" d="M747.8,635.8L761.1,638.6L770.5,641.4L770.5,645.2L759.2,644.2L749.7,639.5ZM787.5,650.8L793.1,643.3L802.6,639.5L808.2,633.9L813.9,639.5L817.7,645.2L829.0,645.2L832.8,650.8L825.2,652.7L821.4,660.3L825.2,667.8L819.5,671.6L817.7,681.0L806.3,681.0L802.6,673.5L800.7,665.9L795.0,658.4L789.4,656.5ZM776.2,703.7L781.8,704.6L780.9,707.5L777.1,707.5ZM779.9,713.1L787.5,712.2L789.4,716.9L783.7,718.8ZM787.5,698.0L791.2,698.0L791.2,702.7L787.5,702.7ZM868.6,677.3L876.2,675.4L878.0,684.8L872.4,683.9ZM881.8,686.7L887.5,686.7L888.4,692.4L883.7,692.4ZM902.6,681.0L910.1,680.1L911.1,684.8L903.5,685.8ZM904.5,696.1L911.1,696.1L910.1,700.8L904.5,699.9ZM876.2,720.7L880.9,718.8L883.7,728.2L882.8,737.6L877.1,737.6L878.0,728.2ZM946.0,639.5L953.5,626.3L957.3,607.6L964.8,624.4L961.1,633.9L955.4,639.5L949.7,645.2ZM829.0,764.1L836.5,760.3L844.1,764.1L851.6,767.8L855.4,775.4L847.8,773.5L840.3,771.6L832.8,769.7ZM823.3,775.4L830.9,775.4L830.9,781.0L824.3,781.0ZM862.9,771.6L872.4,769.7L878.0,775.4L881.8,777.3L889.4,777.3L896.9,781.0L898.8,792.4L896.9,803.7L878.0,803.7L876.2,788.6L870.5,784.8L862.9,781.0ZM876.2,745.2L885.6,745.2L887.5,750.8L878.0,752.7ZM825.2,735.8L829.9,735.8L829.9,743.3L825.2,743.3ZM887.5,758.4L893.1,760.3L891.2,765.9L887.5,764.1ZM844.1,801.9L851.6,800.0L859.2,805.7L855.4,811.3L847.8,809.4ZM879.9,798.1L893.1,798.1L896.9,805.7L887.5,809.4L881.8,805.7ZM915.8,843.4L923.3,841.5L925.2,849.1L917.7,850.9ZM934.6,832.1L942.2,830.2L940.3,837.7L934.6,837.7ZM946.0,818.9L955.4,811.3L957.3,815.1L949.7,822.6ZM827.1,815.1L836.5,814.2L837.5,818.9L828.0,818.9Z"/>
<path fill="#90c97c" filter="url(#f6)" d="M866.7,645.2L874.3,639.5L879.9,647.1L889.4,649.0L893.1,654.6L881.8,655.6L870.5,651.8ZM893.1,633.9L898.8,626.3L908.2,626.3L912.0,635.8L910.1,649.0L900.7,652.7L896.9,643.3ZM906.3,665.9L915.8,660.3L927.1,660.3L927.1,665.9L915.8,669.7L908.2,671.6ZM925.2,690.5L938.4,684.8L953.5,682.9L964.8,686.7L968.6,694.2L962.9,698.0L953.5,692.4L942.2,694.2L934.6,698.0L929.0,698.0ZM972.4,675.4L978.0,675.4L978.0,681.0L972.4,681.0ZM983.7,669.7L991.2,669.7L991.2,686.7L985.6,688.6ZM944.1,720.7L957.3,715.0L970.5,709.3L981.8,711.2L989.4,720.7L991.2,732.0L985.6,741.4L976.2,739.5L972.4,732.0L962.9,728.2L953.5,726.3L946.0,726.3ZM902.6,728.2L910.1,722.5L917.7,726.3L919.5,735.8L912.0,741.4L904.5,739.5ZM915.8,743.3L929.0,743.3L942.2,737.6L957.3,737.6L964.8,743.3L957.3,747.1L946.0,750.8L938.4,758.4L929.0,762.2L919.5,760.3L917.7,752.7ZM904.5,758.4L912.0,752.7L915.8,765.9L910.1,777.3L902.6,782.9L900.7,775.4L902.6,765.9ZM912.0,790.5L923.3,788.6L947.8,790.5L953.5,798.0L938.4,803.7L915.8,803.7ZM953.5,756.5L962.9,756.5L962.9,769.7L955.4,771.6ZM929.0,769.7L938.4,771.6L938.4,781.0L930.9,779.2ZM966.7,747.1L974.3,747.1L974.3,752.7L966.7,752.7ZM817.7,758.4L823.3,756.5L824.3,764.1L818.6,765.0ZM817.7,739.5L825.2,735.8L827.1,739.5L821.4,747.1L817.7,747.1ZM910.1,679.2L915.8,679.2L915.8,690.5L911.1,690.5ZM798.8,847.2L806.3,837.7L813.9,826.4L817.7,817.0L825.2,811.3L832.8,800.0L844.1,800.0L847.8,811.3L855.4,818.9L855.4,837.7L862.9,847.2L872.4,852.8L881.8,858.5L887.5,866.0L889.4,871.7L893.1,883.0L883.7,894.3L878.0,898.1L866.7,901.9L855.4,902.8L844.1,903.8L838.4,905.7L839.4,911.3L836.5,920.8L829.0,922.6L827.1,913.2L829.0,901.9L821.4,894.3L813.9,883.0L810.1,871.7L804.5,862.3L802.6,854.7ZM912.0,798.1L930.9,798.1L934.6,803.8L923.3,805.7L915.8,803.8ZM910.1,811.3L919.5,809.4L921.4,815.1L912.0,817.0Z"/>
<path fill="#35b04f" filter="url(#f5)" d="M819.5,675.4L825.2,674.4L832.8,679.2L840.3,682.9L846.0,686.7L840.3,690.5L832.8,688.6L829.0,694.2L825.2,684.8ZM834.6,777.3L851.6,775.4L857.3,781.0L851.6,790.5L844.1,794.2L836.5,788.6ZM810.1,777.3L815.8,775.4L817.7,781.0L812.0,782.9ZM995.0,607.6L1006.3,607.6L1006.3,652.7L1000.7,652.7L996.9,633.9ZM934.6,633.9L942.2,632.9L942.2,639.5L936.5,641.4ZM927.1,692.4L934.6,694.2L936.5,700.8L930.9,701.8ZM836.5,796.1L847.8,794.2L847.8,803.7L836.5,803.7ZM804.5,852.8L810.1,845.3L815.8,828.3L821.4,818.9L829.0,815.1L840.3,817.0L849.7,822.6L851.6,837.7L859.2,845.3L868.6,852.8L872.4,858.5L844.1,860.4L834.6,866.0L825.2,871.7L817.7,875.5L810.1,867.9L806.3,860.4ZM855.4,828.3L862.9,822.6L870.5,826.4L874.3,835.8L870.5,843.4L861.1,841.5ZM876.2,847.2L887.5,845.3L895.0,854.7L889.4,856.6L879.9,854.7ZM732.8,896.2L738.4,896.2L738.4,901.9L732.8,901.9ZM829.0,905.7L836.5,905.7L836.5,918.9L829.9,920.8Z"/>
<path fill="#0b5b20" filter="url(#f2)" d="M804.5,782.9L810.1,781.0L811.1,788.6L806.3,792.4L803.5,788.6ZM847.8,781.0L855.4,779.2L857.3,784.8L851.6,792.4L846.0,792.4ZM821.4,735.8L825.2,735.8L825.2,743.3L821.4,743.3ZM806.3,854.7L813.9,856.6L821.4,862.3L832.8,864.2L840.3,858.5L855.4,856.6L868.6,858.5L874.3,862.3L878.0,871.7L862.9,873.6L851.6,877.4L846.0,881.1L847.8,888.7L855.4,892.5L868.6,894.3L878.0,896.2L870.5,900.9L859.2,900.0L847.8,894.3L840.3,890.6L832.8,886.8L825.2,884.9L819.5,879.2L813.9,871.7L808.2,864.2ZM832.8,828.3L838.4,828.3L840.3,837.7L834.6,837.7ZM872.4,818.9L876.2,818.9L876.2,828.3L872.4,828.3ZM925.2,842.5L930.9,843.4L929.0,847.2L925.2,846.2Z"/>
<path fill="#a6845f" filter="url(#f2)" d="M872.4,858.5L881.8,862.3L887.5,866.0L889.4,871.7L893.1,877.4L893.1,883.0L889.4,888.7L883.7,892.5L878.0,888.7L868.6,886.8L859.2,884.9L851.6,886.8L847.8,883.0L855.4,877.4L862.9,874.5L878.0,872.6L874.3,864.2Z"/>
<path fill="#2a3a92" filter="url(#f3)" d="M738.4,869.8L744.1,867.9L743.1,875.5L738.4,881.1ZM925.2,839.6L930.9,837.7L932.8,843.4L927.1,847.2Z"/>
<path fill="#ffffff" filter="url(#f4)" d="M708.7,674.4L730.9,677.3L738.4,681.0L746.0,688.6L752.6,694.2L756.3,699.9L757.3,709.3L758.2,720.7L757.3,732.0L755.4,747.1L753.5,762.2L752.6,775.4L750.7,788.6L749.7,803.7L708.7,803.7ZM1022.4,803.7L972.4,803.7L973.3,796.1L974.3,788.6L974.3,779.2L976.2,771.6L979.9,765.9L985.6,761.2L993.1,756.5L1000.7,752.7L1022.4,750.8ZM708.7,798.1L750.7,798.1L747.8,809.4L744.1,818.9L743.1,828.3L745.0,837.7L743.1,847.2L740.3,856.6L736.5,866.0L730.9,875.5L727.1,884.9L725.2,894.3L708.7,901.9L708.7,902.8ZM708.7,932.1L729.9,930.2L732.8,935.8L729.9,945.3L725.2,950.9L708.7,950.9ZM1022.4,798.1L1022.4,998.9L796.9,998.9L789.4,983.0L783.7,977.4L785.6,969.8L793.1,964.2L802.6,960.4L808.2,950.9L810.1,943.4L817.7,942.5L823.3,939.6L821.4,934.9L812.0,934.0L808.2,928.3L810.1,920.8L819.5,922.6L829.0,924.5L836.5,920.8L839.4,911.3L838.4,905.7L844.1,903.8L855.4,902.8L866.7,901.9L878.0,898.1L883.7,894.3L889.4,888.7L893.1,883.0L893.1,877.4L889.4,871.7L887.5,866.0L881.8,862.3L878.0,856.6L881.8,858.5L891.2,856.6L900.7,861.3L912.0,861.3L921.4,856.6L929.0,849.1L934.6,841.5L940.3,832.1L947.8,824.5L955.4,817.0L961.1,809.4L966.7,803.8L974.3,798.1ZM760.1,665.0L768.6,669.7L772.4,675.4L768.6,677.3L761.1,671.6ZM770.5,839.6L778.0,839.6L778.0,847.2L770.5,849.1ZM746.0,845.3L753.5,845.3L753.5,862.3L746.0,862.3ZM734.6,886.8L740.3,886.8L740.3,892.5L734.6,892.5Z"/>
<path fill="#8e99b7" d="M912.9,758.4L918.6,756.5L919.5,765.9L914.8,767.8Z"/>
<path fill="none" stroke="#8e99b7" stroke-width="1.3" stroke-linejoin="round" d="M764.8,622.5L772.4,635.8L770.5,649.0L766.7,660.3L768.6,677.3L762.9,686.7L757.3,695.2L746.0,688.6L730.9,677.3L722.8,674.4M762.9,686.7L768.6,698.0L774.3,709.3L772.4,716.9L778.0,728.2L781.8,740.5L789.4,740.5L796.9,731.0L813.9,733.9L816.7,741.4L819.5,732.9L829.0,732.9L832.8,724.4L838.4,711.2L844.1,707.5L859.2,704.6L872.4,707.5L879.0,711.2L883.7,698.0L881.8,686.7L872.4,684.8L861.1,674.4L857.3,669.7L857.3,658.4L851.6,649.0L842.2,643.3L829.0,639.5L813.9,635.8L806.3,622.5M789.4,740.5L787.5,750.8L774.3,760.3L773.3,775.4L776.2,782.9L768.6,790.5L762.9,803.7M832.8,733.9L844.1,745.2L862.9,754.6L878.0,764.1L883.7,765.9L879.9,775.4L874.3,784.8M879.0,711.2L879.9,724.4L883.7,733.9L900.7,733.9L904.5,747.1L915.8,750.8L921.4,767.8L923.3,779.2L917.7,784.8L900.7,796.1L893.1,803.7M762.0,800.0L757.3,811.3L753.5,822.6L757.3,834.0L761.1,847.2L757.3,862.3L753.5,875.5L747.8,883.0L749.7,898.1L744.1,905.7L740.3,920.8L738.4,935.8L740.3,950.9L742.2,962.3L740.3,977.4L738.4,985.8M881.8,815.1L878.0,828.3L876.2,845.3L878.0,856.6M881.8,815.1L893.1,815.1L900.7,822.6L912.0,828.3L921.4,834.0L925.2,841.5M912.0,861.3L900.7,861.3L891.2,856.6L881.8,858.5M878.0,898.1L866.7,901.9L855.4,902.8L844.1,903.8L838.4,905.7L839.4,911.3L836.5,920.8L829.0,924.5L819.5,922.6L810.1,920.8L808.2,928.3L812.0,934.0L821.4,934.9L823.3,939.6L817.7,942.5L810.1,943.4L808.2,950.9L802.6,960.4L793.1,964.2L785.6,969.8L783.7,977.4L789.4,983.0L796.9,985.8"/>
<path fill="none" stroke="#8e99b7" stroke-width="2.0" stroke-linejoin="round" d="M723.3,950.9L729.0,947.2L732.8,954.7L729.0,962.3L734.6,969.8L730.9,977.4L736.5,984.0M722.8,966.0L727.1,969.8L725.2,977.4L729.9,981.1"/></g>
<g id="pd" clip-path="url(#cd)"><path fill="#ffffff" filter="url(#f4)" d="M1024.4,607.6L1401.0,607.6L1401.0,999.0L1024.4,999.0Z"/>
<path fill="#d2d3d4" filter="url(#f3)" d="M1024.4,607.6L1401.0,607.6L1401.0,872.5L1401.0,872.5L1379.8,865.6L1370.6,872.5L1361.4,875.9L1352.2,872.5L1354.5,863.3L1352.2,854.1L1347.6,844.9L1340.7,835.6L1333.8,828.7L1329.2,819.5L1326.9,812.6L1322.3,808.0L1315.4,812.6L1306.2,814.9L1299.3,810.3L1292.4,812.6L1283.2,819.5L1278.6,826.4L1269.4,833.3L1260.1,837.9L1253.2,844.9L1246.3,851.8L1237.1,858.7L1230.2,865.6L1221.0,872.5L1211.8,877.1L1210.7,888.6L1211.8,900.1L1209.5,911.6L1208.4,923.1L1204.9,932.3L1198.0,939.2L1191.1,946.1L1186.5,953.0L1179.6,950.7L1175.0,941.5L1170.4,930.0L1165.8,918.5L1158.9,904.7L1154.3,890.9L1149.7,877.1L1145.1,865.6L1140.5,854.1L1138.2,842.6L1137.0,831.0L1135.9,819.1L1133.6,814.5L1129.0,821.4L1119.8,826.0L1110.6,821.4L1101.3,814.5L1099.0,808.0L1094.4,800.7L1089.8,793.8L1080.6,789.2L1071.4,783.4L1053.0,781.1L1024.4,781.1L1024.4,781.1ZM1207.2,939.2L1211.8,935.8L1218.7,943.8L1225.6,955.3L1227.9,964.5L1223.3,971.4L1216.4,974.9L1210.7,969.1L1207.2,957.6L1206.1,946.1Z"/>
<path fill="#efcc7f" filter="url(#f1)" d="M1209.5,955.3L1216.4,953.0L1221.0,964.5L1214.1,971.4L1210.7,966.8Z"/>
<path fill="#8e99b7" d="M1337.2,900.1L1340.7,898.9L1339.6,911.6L1337.2,918.5L1335.6,916.2L1336.6,907.0ZM1333.3,925.9L1336.6,925.9L1336.6,929.1L1333.3,929.1ZM1346.5,962.9L1349.7,962.9L1349.7,966.1L1346.5,966.1Z"/>
<path fill="#d2d3d4" filter="url(#f3)" d="M1363.7,979.5L1384.4,981.8L1384.4,999.0L1363.7,999.0Z"/>
<path fill="#e4d3a8" filter="url(#f1)" d="M1232.5,676.4L1250.9,671.8L1274.0,671.8L1292.4,658.0L1310.8,658.0L1324.6,667.2L1338.4,671.8L1352.2,681.0L1347.6,690.3L1329.2,692.6L1320.0,704.1L1315.4,713.3L1301.6,717.9L1283.2,715.6L1274.0,722.5L1260.1,722.5L1246.3,717.9L1232.5,720.2L1232.5,708.7L1237.1,699.5L1232.5,687.9Z"/>
<path fill="#efcc7f" filter="url(#f1)" d="M1347.6,641.9L1363.7,641.9L1366.0,648.8L1349.9,648.8ZM1345.3,658.0L1361.4,660.3L1384.4,664.9L1401.0,671.8L1370.6,669.5L1352.2,667.2ZM1370.6,648.8L1401.0,646.5L1401.0,655.7L1375.2,655.7ZM1200.3,678.7L1209.5,678.7L1209.5,685.6L1200.3,685.6ZM1048.4,653.4L1059.9,655.7L1059.9,662.6L1048.4,661.5ZM1048.4,750.1L1057.6,750.1L1057.6,755.8L1048.4,755.8ZM1179.6,641.9L1188.8,639.6L1191.1,646.5L1181.9,648.8ZM1094.4,798.4L1122.1,796.1L1124.4,803.0L1099.0,805.3ZM1375.2,763.9L1384.4,761.6L1401.0,773.1L1377.5,775.4ZM1204.9,831.0L1214.1,828.7L1221.0,837.9L1214.1,847.2L1207.2,842.6ZM1232.5,824.1L1244.0,826.4L1241.7,833.3L1232.5,831.0ZM1138.2,828.7L1143.9,828.7L1145.1,840.3L1140.0,841.4ZM1326.9,796.5L1331.5,796.5L1333.8,808.0L1329.2,810.3Z"/>
<path fill="#a6845f" filter="url(#f2)" d="M1303.9,628.1L1313.1,624.7L1324.6,624.7L1324.6,631.6L1313.1,635.0L1305.0,635.0ZM1349.9,659.2L1370.6,661.5L1370.6,666.1L1352.2,663.8ZM1338.4,674.1L1349.9,676.4L1351.1,681.0L1340.7,679.9ZM1297.0,711.0L1310.8,711.0L1311.9,716.7L1298.1,716.7ZM1308.5,677.6L1320.0,678.7L1320.0,683.3L1309.6,682.9ZM1264.8,694.9L1274.0,694.9L1274.0,700.6L1265.9,700.6ZM1262.5,722.5L1280.9,721.3L1280.9,725.9L1263.6,726.4ZM1094.4,793.8L1105.9,791.5L1119.8,791.5L1122.1,796.1L1110.6,798.4L1099.0,798.4ZM1363.7,752.9L1370.6,752.4L1370.6,759.3L1364.9,759.3ZM1283.2,704.1L1292.4,702.9L1293.5,707.5L1284.3,708.7ZM1301.6,699.5L1309.6,699.0L1309.6,703.6L1302.0,704.1ZM1234.8,716.7L1244.0,715.6L1244.0,720.2L1236.0,720.6Z"/>
<path fill="#35b04f" filter="url(#f5)" d="M1124.4,787.3L1135.9,771.2L1149.7,762.0L1278.6,762.0L1285.5,785.0L1283.2,794.2L1278.6,803.4L1280.9,814.9L1274.0,821.8L1267.1,828.7L1264.8,837.9L1253.2,844.9L1246.3,851.8L1237.1,858.7L1230.2,865.6L1221.0,872.5L1211.8,877.1L1210.7,888.6L1211.8,900.1L1209.5,911.6L1208.4,923.1L1204.9,932.3L1198.0,939.2L1191.1,946.1L1186.5,953.0L1181.9,948.4L1177.3,936.9L1172.7,923.1L1170.4,911.6L1163.5,900.1L1158.9,886.3L1154.3,872.5L1149.7,858.7L1147.4,844.9L1145.1,831.0L1140.5,819.5L1135.9,814.9L1131.3,808.0L1126.7,798.8ZM1122.1,786.9L1131.3,777.7L1138.2,768.5L1145.1,750.1L1154.3,743.2L1163.5,747.8L1172.7,754.7L1181.9,761.6L1191.1,768.5L1200.3,768.5L1209.5,775.4L1223.3,777.7L1237.1,780.0L1250.9,784.6L1264.8,786.9L1278.6,789.2L1283.2,793.8L1278.6,803.0L1280.9,814.5L1274.0,821.4L1267.1,828.3L1264.8,842.1L1135.9,842.1L1138.2,828.3L1135.9,819.1L1131.3,807.6L1126.7,796.1ZM1101.3,809.9L1112.9,805.3L1126.7,803.0L1131.3,812.2L1129.0,821.4L1119.8,826.0L1110.6,821.4ZM1089.8,646.5L1108.3,646.5L1108.3,658.0L1092.1,658.0ZM1356.8,810.3L1363.7,801.1L1370.6,803.4L1372.9,814.9L1375.2,831.0L1377.5,849.5L1375.2,863.3L1366.0,870.2L1359.1,863.3L1359.1,849.5L1354.5,831.0Z"/>
<path fill="#90c97c" filter="url(#f6)" d="M1165.8,858.7L1177.3,854.1L1191.1,849.5L1204.9,854.1L1209.5,863.3L1207.2,872.5L1200.3,877.1L1202.6,888.6L1200.3,900.1L1191.1,904.7L1181.9,900.1L1175.0,890.9L1170.4,881.7L1165.8,872.5ZM1138.2,768.9L1154.3,762.0L1163.5,766.6L1154.3,775.8L1145.1,780.4ZM1145.1,750.1L1158.9,745.5L1168.1,750.1L1158.9,761.6L1149.7,768.5L1140.5,770.8ZM1126.7,699.5L1140.5,697.2L1145.1,704.1L1133.6,708.7L1126.7,706.4ZM1250.9,796.5L1269.4,794.2L1271.7,803.4L1255.5,805.7ZM1191.1,798.8L1214.1,796.5L1221.0,803.4L1200.3,808.0ZM1375.2,819.5L1382.1,819.5L1383.3,835.6L1376.4,835.6Z"/>
<path fill="#d2d3d4" filter="url(#f3)" d="M1103.6,759.3L1112.9,752.4L1126.7,745.5L1138.2,740.9L1145.1,750.1L1138.2,768.5L1131.3,777.7L1122.1,786.9L1115.2,777.7L1108.3,770.8ZM1137.0,831.0L1145.1,831.0L1147.4,844.9L1149.7,858.7L1154.3,872.5L1158.9,886.3L1163.5,900.1L1170.4,911.6L1172.7,923.1L1177.3,936.9L1181.9,948.4L1179.6,950.7L1175.0,941.5L1170.4,930.0L1165.8,918.5L1158.9,904.7L1154.3,890.9L1149.7,877.1L1145.1,865.6L1140.5,854.1L1138.2,842.6ZM1204.9,831.0L1214.1,826.4L1227.9,828.7L1237.1,824.1L1246.3,826.4L1255.5,831.0L1253.2,840.3L1244.0,849.5L1232.5,854.1L1218.7,854.1L1209.5,847.2L1204.9,840.3ZM1145.1,817.2L1158.9,812.6L1177.3,814.9L1195.7,808.0L1209.5,805.7L1204.9,810.3L1191.1,814.9L1177.3,819.5L1158.9,819.5ZM1223.3,801.1L1255.5,796.5L1274.0,789.6L1278.6,796.5L1260.1,805.7L1237.1,808.0L1225.6,808.0ZM1168.1,890.9L1177.3,886.3L1179.6,900.1L1186.5,909.3L1181.9,918.5L1172.7,911.6ZM1177.3,923.1L1186.5,923.1L1188.8,936.9L1181.9,943.8Z"/>
<path fill="#efcc7f" filter="url(#f1)" d="M1207.2,833.3L1214.1,829.9L1221.0,837.9L1214.1,846.0L1208.4,841.4ZM1233.7,825.3L1244.0,827.1L1241.7,833.3L1233.7,831.5Z"/>
<path fill="#0b5b20" filter="url(#f2)" d="M1218.7,814.9L1225.6,810.3L1234.8,812.6L1237.1,819.5L1232.5,826.4L1223.3,827.6L1217.6,821.8ZM1315.4,768.5L1329.2,766.2L1345.3,763.9L1356.8,757.0L1368.3,752.4L1370.6,757.0L1361.4,763.9L1352.2,770.8L1338.4,773.1L1324.6,773.1L1315.4,773.1ZM1280.9,814.9L1290.1,808.0L1297.0,810.3L1287.8,817.2L1278.6,826.4L1274.0,833.3L1264.8,837.9L1267.1,828.7L1274.0,821.8ZM1361.4,849.5L1368.3,844.9L1370.6,858.7L1366.0,867.9L1360.3,863.3ZM1154.3,791.9L1163.5,789.6L1165.8,798.8L1156.6,801.1Z"/>
<path fill="#88bfe2" filter="url(#f3)" d="M1085.2,750.1L1094.4,747.8L1105.9,750.1L1112.9,743.2L1117.5,731.7L1115.2,720.2L1117.5,711.0L1131.3,708.7L1145.1,707.5L1158.9,708.7L1168.1,715.6L1172.7,727.1L1177.3,736.3L1186.5,750.1L1195.7,759.3L1200.3,766.2L1191.1,768.5L1181.9,761.6L1172.7,754.7L1163.5,747.8L1154.3,743.2L1145.1,740.9L1135.9,738.6L1126.7,743.2L1117.5,747.8L1108.3,752.4L1099.0,759.3L1096.7,770.8L1101.3,777.7L1103.6,784.6L1096.7,789.2L1089.8,786.9L1086.4,773.1L1084.1,761.6Z"/>
<path fill="#1d5ea6" filter="url(#f3)" d="M1163.5,711.0L1172.7,722.5L1179.6,731.7L1191.1,738.6L1204.9,745.5L1218.7,752.4L1232.5,759.3L1248.6,763.9L1264.8,768.5L1278.6,770.8L1290.1,770.8L1292.4,777.7L1287.8,786.9L1278.6,789.2L1264.8,786.9L1250.9,784.6L1237.1,780.0L1223.3,777.7L1209.5,775.4L1200.3,768.5L1191.1,759.3L1181.9,747.8L1175.0,736.3L1168.1,722.5Z"/>
<path fill="#2a3a92" filter="url(#f3)" d="M1290.1,770.8L1306.2,770.8L1308.5,782.3L1324.6,782.3L1338.4,784.6L1338.4,789.2L1326.9,791.5L1322.3,798.4L1315.4,807.6L1306.2,809.9L1297.0,807.6L1287.8,809.9L1280.9,814.5L1278.6,803.0L1283.2,793.8L1287.8,784.6ZM1108.3,819.1L1122.1,821.4L1119.8,824.9L1110.6,822.6ZM1129.0,796.1L1138.2,798.4L1140.5,809.9L1133.6,809.9Z"/>
<path fill="#88bfe2" filter="url(#f3)" d="M1188.8,842.6L1202.6,842.6L1207.2,854.1L1195.7,856.4L1188.8,851.8ZM1207.2,867.9L1218.7,865.6L1221.0,872.5L1211.8,877.1Z"/>
<path fill="#1d5ea6" filter="url(#f3)" d="M1218.7,863.3L1227.9,861.0L1234.8,863.3L1230.2,867.9L1221.0,870.2Z"/>
<path fill="#2a3a92" filter="url(#f3)" d="M1200.3,904.7L1209.5,902.4L1210.7,913.9L1208.4,930.0L1202.6,932.3L1201.5,918.5Z"/>
<path fill="#88bfe2" filter="url(#f3)" d="M1172.7,877.1L1181.9,874.8L1181.9,884.0L1175.0,886.3ZM1181.9,918.5L1191.1,918.5L1193.4,927.7L1184.2,930.0Z"/>
<path fill="#1d5ea6" filter="url(#f3)" d="M1147.4,831.0L1158.9,833.3L1168.1,840.3L1158.9,842.6L1149.7,837.9ZM1191.1,785.0L1209.5,778.1L1214.1,785.0L1200.3,791.9ZM1172.7,775.8L1179.6,775.8L1179.6,787.3L1173.8,787.3ZM1237.1,814.9L1246.3,813.8L1248.6,819.5L1239.4,820.7Z"/>
<path fill="#2a3a92" filter="url(#f3)" d="M1363.7,801.1L1368.3,801.1L1372.9,819.5L1369.5,819.5Z"/>
<path fill="#88bfe2" filter="url(#f3)" d="M1085.2,607.6L1101.3,607.6L1103.6,630.4L1089.8,631.6ZM1115.2,623.5L1142.8,607.6L1142.8,628.1L1117.5,630.4ZM1059.9,637.3L1078.3,636.2L1078.3,646.5L1062.2,646.5ZM1168.1,637.3L1177.3,636.2L1179.6,641.9L1170.4,643.1ZM1179.6,646.5L1186.5,646.5L1185.4,654.6L1179.6,654.6ZM1209.5,623.5L1223.3,623.5L1221.0,629.3L1211.8,629.3Z"/>
<path fill="#8e99b7" d="M1299.3,808.0L1310.8,805.7L1320.0,808.0L1317.7,813.8L1306.2,814.9ZM1356.8,866.7L1368.3,867.9L1370.6,872.5L1361.4,875.9L1352.2,870.2Z"/>
<path fill="#ffffff" filter="url(#f4)" d="M1101.3,782.3L1117.5,781.2L1119.8,789.2L1105.9,790.4ZM1311.9,724.8L1320.0,724.3L1320.0,727.5L1312.6,728.0Z"/>
<path fill="none" stroke="#8e99b7" stroke-width="1.3" stroke-linejoin="round" d="M1038.5,674.1L1053.0,669.5L1059.9,660.3L1076.0,662.6L1087.5,660.3L1099.0,655.7L1110.6,653.4L1117.5,648.8L1124.4,655.7L1124.4,667.2L1122.1,671.8L1126.7,678.7L1122.1,687.9L1115.2,692.6L1105.9,697.2L1103.6,706.4L1099.0,713.3L1087.5,715.6L1076.0,720.2L1071.4,731.7L1059.9,737.4L1038.5,738.6M1147.4,635.0L1152.0,646.5L1158.9,660.3L1168.1,667.2L1177.3,676.4L1191.1,678.7L1195.7,687.9L1200.3,699.5L1195.7,708.7L1195.7,715.6L1204.9,722.5L1214.1,729.4L1211.8,740.9L1214.1,747.8M1221.0,729.4L1237.1,736.3L1250.9,745.5L1264.8,750.1L1278.6,754.7L1290.1,754.7L1297.0,752.4L1310.8,750.1L1324.6,754.7L1338.4,750.1L1352.2,743.2L1370.6,739.7L1382.1,747.8L1387.4,750.1M1211.8,740.9L1227.9,752.4L1250.9,759.3L1269.4,763.9L1290.1,766.2L1291.2,755.8M1122.1,671.8L1133.6,664.9L1149.7,661.5L1158.9,660.3M1103.6,754.7L1110.6,750.1L1122.1,745.5L1135.9,740.9L1145.1,738.6L1154.3,727.1L1161.2,713.3L1154.3,704.1L1147.4,699.5L1148.5,687.9L1158.9,685.6L1177.3,685.6L1177.3,676.4M1038.5,637.3L1053.0,644.2L1071.4,653.4L1076.0,662.6M1103.6,754.7L1105.9,768.5L1117.5,782.3L1122.1,786.9L1117.5,789.2L1092.1,793.8M1290.1,768.5L1308.5,768.5L1310.8,773.1L1331.5,773.1L1336.1,782.3L1326.9,791.5L1326.9,805.3L1322.3,809.9M1290.1,770.8L1294.7,782.3L1292.4,791.5L1301.6,796.1L1306.2,807.6M1326.9,791.5L1333.8,796.1L1340.7,809.9L1343.0,793.8L1352.2,786.9L1356.8,773.1L1368.3,763.9L1382.1,757.0L1384.4,750.1M1297.0,752.4L1299.3,761.6L1329.2,763.9L1329.2,754.7M1147.4,635.0L1158.9,625.8L1177.3,622.4M1076.0,621.7L1082.9,632.7L1103.6,635.0L1117.5,632.7L1145.1,635.0M1038.5,781.1L1053.0,781.1L1071.4,783.4L1080.6,789.2L1089.8,793.8L1094.4,800.7L1099.0,808.0L1101.3,814.5L1110.6,821.4L1119.8,826.0L1129.0,821.4L1133.6,814.5L1135.9,819.1L1137.0,831.0L1138.2,842.6L1140.5,854.1L1145.1,865.6L1149.7,877.1L1154.3,890.9L1158.9,904.7L1165.8,918.5L1170.4,930.0L1175.0,941.5L1179.6,950.7L1186.5,953.0L1191.1,946.1L1198.0,939.2L1204.9,932.3L1208.4,923.1L1209.5,911.6L1211.8,900.1L1210.7,888.6L1211.8,877.1L1221.0,872.5L1230.2,865.6L1237.1,858.7L1246.3,851.8L1253.2,844.9L1260.1,837.9L1269.4,833.3L1278.6,826.4L1283.2,819.5L1292.4,812.6L1299.3,810.3L1306.2,814.9L1315.4,812.6L1322.3,808.0L1326.9,812.6L1329.2,819.5L1333.8,828.7L1340.7,835.6L1347.6,844.9L1352.2,854.1L1354.5,863.3L1352.2,872.5L1361.4,875.9L1370.6,872.5L1379.8,865.6L1387.4,872.5M1207.2,939.2L1211.8,935.8L1218.7,943.8L1225.6,955.3L1227.9,964.5L1223.3,971.4L1216.4,974.9L1210.7,969.1L1207.2,957.6L1206.1,946.1L1207.2,939.2"/></g>
</defs>
<rect width="1593" height="991" fill="#fff"/>
<g clip-path="url(#cw)">
<path fill="#d2d3d4" filter="url(#f3w)" d="M167.3,15.3L318.8,15.3L318.8,103.4L311.2,100.9L303.7,95.8L296.1,88.3L288.5,83.2L283.5,78.2L279.7,73.1L274.7,68.7L265.8,65.6L258.3,64.9L248.2,63.7L238.1,62.4L235.6,64.3L223.0,63.1L220.4,65.6L211.6,70.6L207.8,74.4L201.5,76.9L195.2,79.4L188.9,80.7L167.3,83.9L167.3,82.0L186.4,78.2L192.7,76.3L199.0,73.8L201.5,71.9L195.2,69.4L186.4,69.4L186.4,65.6L167.3,64.9L167.3,54.2L188.9,51.7L188.9,48.5L167.3,47.9ZM316.2,15.3L432.2,15.3L452.4,15.3L472.6,15.3L467.5,40.2L457.4,45.2L447.3,52.8L432.2,60.4L423.4,64.1L316.2,64.1ZM440.0,32.3L445.7,31.3L449.4,35.1L447.5,42.6L440.0,46.4ZM460.8,15.3L468.3,31.3L470.2,37.0L464.5,40.8L458.9,37.0ZM451.3,44.5L458.9,42.6L466.4,48.3L460.8,53.0L453.2,51.1ZM477.7,31.3L489.1,15.3L519.2,15.3L521.1,33.2L530.6,37.9L540.0,40.8L538.1,44.5L528.7,45.5L530.6,51.1L526.8,54.9L517.4,55.8L509.8,52.1L502.3,48.3L494.7,46.4L487.2,49.2L481.5,48.3L485.3,42.6L492.8,40.8L500.4,37.9L496.6,35.1L487.2,35.1L479.6,34.2ZM482.5,56.8L496.6,57.7L509.8,60.6L511.7,63.4L483.4,63.4ZM498.5,62.3L511.7,62.3L512.6,67.2L523.0,70.0L528.7,63.4L534.3,69.1L540.0,76.6L549.4,82.3L557.0,86.0L559.8,91.7L553.2,94.5L545.7,95.5L538.1,96.4L530.6,97.4L523.0,98.3L515.5,100.2L507.9,103.0L502.3,106.8L498.5,108.7ZM498.5,110.6L507.9,106.8L515.5,104.0L523.0,103.0L528.7,104.9L526.8,108.7L521.1,110.6L523.0,114.3L528.7,112.5L534.3,112.5L541.9,110.6L544.7,113.4L538.1,117.2L530.6,120.0L524.9,122.8L523.0,120.0L517.4,118.1L511.7,121.9L506.0,125.7L502.3,131.3L498.5,131.3ZM547.5,107.7L553.2,97.4L558.9,94.5L560.8,97.4L557.9,101.1L562.6,103.0L568.3,104.9L570.2,110.6L566.4,111.5L560.8,108.7L555.1,108.7L551.3,109.6ZM365.4,190.2L413.3,190.2L413.3,201.6L417.1,209.2L422.1,214.2L432.2,211.7L437.3,204.1L442.3,200.3L449.9,200.3L447.3,209.2L442.3,216.7L444.8,221.8L452.4,221.8L459.9,221.8L463.7,229.3L461.2,236.9L465.0,241.9L472.6,247.0L482.6,244.5L485.2,249.5L477.6,248.2L472.6,250.8L465.0,245.7L457.4,240.7L454.9,234.4L447.3,230.6L439.8,228.1L432.2,223.0L422.1,219.7L412.0,221.0L399.4,219.2L389.3,214.7L381.8,209.7L374.2,202.1ZM458.7,196.5L470.0,195.3L482.6,199.1L492.7,204.1L490.2,206.6L477.6,202.8L465.0,200.3ZM495.3,207.9L507.9,206.6L512.9,210.4L505.3,212.9L495.3,211.7Z"/>
<path fill="#8e99b7" d="M519.2,210.9L524.3,210.9L524.3,212.9L519.2,212.9ZM481.4,211.7L487.7,211.7L487.7,214.2L481.4,213.7ZM206.5,205.4L211.5,205.4L211.5,209.2L206.5,209.2ZM195.1,197.8L197.2,197.8L197.2,199.6L195.1,199.6ZM200.2,200.3L203.2,201.1L202.7,203.1L200.2,202.1Z"/>
<path fill="#e2d4b0" filter="url(#f3w)" d="M167.3,15.3L252.0,15.3L258.3,31.5L253.2,36.6L250.7,41.6L253.2,50.4L250.7,56.7L240.6,59.3L229.3,60.5L224.2,63.1L217.9,64.3L211.6,68.1L205.3,70.6L200.3,68.1L195.2,65.6L186.4,65.6L167.3,64.3Z"/>
<path fill="#efcc7f" filter="url(#f1w)" d="M283.4,32.6L316.2,15.3L432.2,15.3L447.3,35.1L452.4,42.7L442.3,50.3L422.1,64.1L318.7,64.1L321.2,50.3L316.2,45.2L301.1,42.7L288.4,37.7ZM440.0,32.3L445.7,31.3L449.4,35.1L447.5,42.6L440.0,46.4ZM451.3,44.5L458.9,42.6L466.4,48.3L460.8,53.0L453.2,51.1ZM502.3,31.3L519.2,15.3L515.5,38.9L506.0,40.8ZM482.5,56.8L496.6,57.7L509.8,60.6L511.7,63.4L483.4,63.4ZM498.5,62.3L511.7,62.3L512.6,67.2L523.0,70.0L528.7,74.7L538.1,79.4L549.4,82.3L557.0,86.0L559.8,91.7L553.2,94.5L545.7,95.5L538.1,96.4L530.6,97.4L523.0,96.4L515.5,95.5L507.9,97.4L498.5,99.2ZM519.2,112.5L524.9,112.5L524.9,118.1L520.2,117.2ZM549.4,106.8L554.2,99.2L559.8,97.4L557.9,101.1L562.6,103.0L568.3,105.8L566.4,110.6L560.8,108.3L555.1,108.3Z"/>
<path fill="#e4d3a8" filter="url(#f1w)" d="M422.1,211.7L432.2,210.4L442.3,214.2L444.8,221.8L452.4,221.8L459.9,223.0L461.2,231.9L454.9,233.1L447.3,229.3L439.8,226.8L432.2,221.8L422.1,218.7Z"/>
<path fill="#a6845f" filter="url(#f2w)" d="M321.2,47.7L331.3,45.2L343.9,50.3L354.0,57.8L356.5,64.1L318.7,64.1ZM316.2,40.2L331.3,42.7L330.1,46.5L317.5,45.2ZM513.6,70.0L521.1,69.1L526.8,76.6L523.0,82.3L515.5,78.5ZM502.3,76.6L511.7,78.5L509.8,86.0L502.3,84.2ZM523.0,84.2L530.6,82.3L534.3,87.9L526.8,89.8ZM541.9,88.9L553.2,89.8L551.3,92.6L543.8,92.6ZM494.7,40.8L506.0,39.8L507.9,44.5L496.6,46.4ZM485.3,35.1L492.8,36.0L490.9,38.9L485.3,38.9ZM453.2,45.5L458.9,44.5L462.6,49.2L457.0,51.1ZM440.0,35.1L445.7,34.2L446.6,40.8L440.0,42.6ZM425.9,211.7L434.7,210.7L439.8,215.5L429.7,216.7ZM453.6,223.0L459.9,224.3L460.5,230.6L455.4,230.6Z"/>
<path fill="#90c97c" filter="url(#f6w)" d="M391.9,194.0L399.4,192.8L404.5,201.6L407.0,209.2L401.9,211.7L396.9,204.1Z"/>
<path fill="#ffffff" filter="url(#f4w)" d="M325.0,44.0L331.3,41.4L341.4,42.2L341.4,45.2L331.3,46.5ZM354.0,35.1L366.6,33.9L379.2,37.7L376.7,40.2L364.1,38.2ZM401.9,15.3L432.2,15.3L429.7,34.6L417.1,35.6L407.0,33.9ZM371.7,47.7L381.8,49.8L394.4,51.5L381.8,54.0L372.9,52.8ZM354.0,57.8L361.6,59.1L356.5,61.6Z"/>
<path fill="#8b8e9b" filter="url(#f3w)" d="M562.6,15.3L579.6,15.3L580.6,34.2L575.8,37.0L580.6,48.3L577.7,51.1L572.1,48.3L568.3,42.6L566.4,37.0L568.3,33.2Z"/>
<path fill="none" stroke="#8e99b7" stroke-width="1.6" stroke-linejoin="round" d="M670.2,43.6L677.7,41.7L685.3,43.6L694.7,42.6L704.2,41.7L708.9,46.4L704.2,50.2L692.8,53.0L683.4,51.1L675.8,50.2L677.7,46.4L670.2,43.6"/>
<path fill="#b3b9cb" filter="url(#f3w)" d="M281.0,68.7L287.3,71.9L294.8,79.4L302.4,85.8L310.0,93.3L318.2,100.9L318.8,104.7L313.8,100.9L306.2,97.1L298.6,90.8L291.1,83.2L283.5,75.7L277.2,70.6Z"/>
<path fill="none" stroke="#8e99b7" stroke-width="1.0" stroke-linejoin="round" d="M523.0,115.3L528.7,113.4L534.3,113.4L541.9,111.5L543.8,113.4L538.1,116.6L530.6,119.1L524.9,121.9L523.0,115.3"/>
<path fill="none" stroke="#8e99b7" stroke-width="1.2" stroke-linejoin="round" d="M547.5,107.7L553.2,97.4L558.9,94.5L560.8,97.4L557.9,101.1L562.6,103.0L568.3,104.9L570.2,110.6L566.4,111.5L560.8,108.7L555.1,108.7L551.3,109.6L547.5,107.7"/>
<path fill="none" stroke="#8e99b7" stroke-width="0.8" stroke-linejoin="round" d="M259.8,30.3L260.2,64.9"/>
<path fill="#a6845f" filter="url(#f3w)" d="M230.4,40.7L249.3,39.2L250.8,42.3L239.8,43.9L230.4,43.6ZM208.3,51.8L227.2,47.0L239.8,48.6L243.0,51.0L230.4,51.8L219.4,54.9L209.9,56.5ZM167.3,57.3L192.6,54.9L195.7,58.8L189.4,63.6L167.3,64.4ZM194.2,48.6L205.2,43.9L208.3,46.3L198.9,51.0ZM238.2,54.1L246.1,53.3L247.7,56.5L239.8,57.3ZM260.3,35.2L268.2,35.7L267.4,37.6L260.6,37.3ZM200.5,40.7L211.5,39.2L213.1,41.5L202.0,43.1Z"/>
<path fill="#efcc7f" filter="url(#f1w)" d="M222.5,57.3L228.8,56.5L227.2,62.8L222.5,62.0ZM195.7,64.4L205.2,62.8L206.8,67.5L198.9,69.9Z"/>
<path fill="#ffffff" filter="url(#f4w)" d="M167.3,48.3L189.4,48.9L191.0,51.4L184.7,53.0L167.3,52.6ZM167.3,66.2L187.9,65.6L197.3,69.4L189.4,72.2L167.3,73.8Z"/>
<path fill="#8e99b7" d="M211.5,70.7L220.1,69.4L221.2,73.0L213.8,75.7Z"/>
<path fill="#d2d3d4" filter="url(#f3w)" d="M471.7,247.2L475.5,243.4L481.1,244.3L484.9,249.1L488.7,243.4L494.3,237.7L501.9,234.0L505.7,235.8L509.4,237.7L517.0,239.6L524.5,240.6L532.1,238.7L539.6,239.6L543.4,245.3L550.9,250.9L556.6,254.7L564.2,255.7L571.7,258.5L576.4,264.2L579.2,271.7L584.9,277.4L592.5,280.2L600.0,283.0L607.5,285.8L618.9,287.7L630.2,294.3L634.0,301.9L632.1,309.4L626.4,317.0L620.8,322.6L618.9,332.1L617.0,341.5L615.1,349.1L609.4,354.7L601.9,357.5L601.9,313.2L500.0,313.2L500.0,334.0L490.6,328.3L484.9,320.8L481.1,313.2L477.4,305.7L471.7,298.1L470.8,290.6L471.7,281.1L473.6,275.5L479.2,269.8L483.0,262.3L479.2,254.7Z"/>
<path fill="#b0b6c8" filter="url(#f3w)" d="M490.6,439.6L498.1,434.9L500.0,443.4L498.1,450.9L501.9,458.5L511.3,462.3L520.8,467.9L530.2,468.9L520.8,471.3L511.3,471.3L501.9,467.0L494.3,460.4L490.2,450.9Z"/>
<path fill="#8e99b7" d="M494.9,422.6L498.1,420.8L498.1,439.6L492.5,438.3L494.3,432.1Z"/>
<path fill="#d2d3d4" filter="url(#f3w)" d="M498.1,436.8L520.8,436.8L524.5,443.4L520.8,449.1L515.1,452.8L514.2,460.4L520.8,466.0L513.2,467.0L505.7,462.3L500.0,454.7L497.2,445.3Z"/>
<path fill="#8e99b7" d="M541.5,457.5L552.8,456.2L553.2,458.9L545.3,460.4ZM434.0,276.4L437.7,276.4L437.7,278.9L434.0,278.9ZM536.8,239.2L540.6,239.2L540.6,243.0L537.4,243.0ZM540.0,217.0L540.9,218.9L540.6,228.3L539.8,226.4Z"/>
<path fill="#efcc7f" filter="url(#f1w)" d="M490.6,241.5L498.1,237.7L505.7,243.4L520.8,243.4L528.3,247.2L532.1,254.7L539.6,256.6L547.2,262.3L550.9,269.8L556.6,275.5L566.0,277.4L569.8,283.0L566.0,288.7L558.5,290.6L550.9,294.3L547.2,301.9L539.6,307.5L528.3,309.4L513.2,308.5L501.9,307.5L494.3,301.9L490.6,294.3L483.0,288.7L483.0,281.1L488.7,273.6L494.3,266.0L500.0,258.5L503.8,250.9L494.3,249.1ZM566.0,290.6L577.4,286.8L588.7,281.1L598.1,283.0L600.0,288.7L588.7,294.3L584.9,301.9L581.1,311.3L569.8,311.3L562.3,305.7L560.4,298.1ZM547.2,264.2L560.4,256.6L573.6,262.3L575.5,269.8L566.0,271.7L550.9,271.7ZM456.6,222.6L462.3,220.8L462.3,235.8L457.5,235.8Z"/>
<path fill="#d2d3d4" filter="url(#f3w)" d="M522.6,250.9L532.1,256.6L539.6,258.5L545.3,264.2L547.2,271.7L532.1,271.7L526.4,262.3Z"/>
<path fill="#a6845f" filter="url(#f2w)" d="M501.9,256.6L507.5,247.2L517.0,244.3L524.5,247.2L520.8,254.7L513.2,258.5L505.7,262.3ZM513.2,262.3L522.6,258.5L524.5,269.8L517.0,273.6ZM520.8,275.5L532.1,273.6L541.5,271.7L543.4,281.1L549.1,288.7L543.4,294.3L532.1,298.1L524.5,290.6L517.0,288.7ZM483.0,288.7L494.3,284.9L505.7,283.0L513.2,288.7L505.7,294.3L494.3,296.2L486.8,294.3ZM492.5,243.4L496.2,241.5L497.2,247.2L493.4,249.1ZM422.6,211.3L435.8,210.4L437.7,214.2L424.5,215.1Z"/>
<path fill="#8e99b7" d="M576.4,277.7L580.2,276.4L584.0,279.2L580.8,283.0L577.4,282.1Z"/>
<path fill="none" stroke="#8e99b7" stroke-width="0.8" stroke-linejoin="round" d="M550.9,290.6L562.3,286.8L575.5,281.1"/>
<path fill="none" stroke="#8e99b7" stroke-width="1.6" stroke-linejoin="round" d="M580.8,283.0L581.5,293.4"/>
<path fill="none" stroke="#8e99b7" stroke-width="0.8" stroke-linejoin="round" d="M488.7,243.4L494.3,256.6L505.7,260.4L513.2,256.6L520.8,262.3L522.6,271.7L513.2,275.5M483.0,281.1L494.3,275.5L505.7,279.2L513.2,275.5M522.6,271.7L532.1,269.8L539.6,260.4L543.4,245.3M539.6,260.4L550.9,262.3L560.4,256.6M560.4,256.6L564.2,264.2L573.6,263.2M505.7,279.2L501.9,288.7L509.4,298.1L505.7,305.7L513.2,313.2M483.0,281.1L479.2,290.6L490.6,298.1L498.1,305.7L498.1,313.2"/>
<path fill="#d2d3d4" filter="url(#f3w)" d="M981.9,15.3L981.9,208.7L697.0,208.7L696.0,199.2L700.8,191.7L708.3,184.2L715.8,176.6L723.4,169.1L722.5,163.4L727.2,157.7L735.7,150.2L734.7,145.5L724.3,144.5L723.4,133.2L725.3,123.4L742.3,122.8L751.7,122.8L752.6,116.2L749.8,110.6L744.2,108.7L740.4,105.8L747.9,103.0L755.5,101.1L761.1,99.2L763.0,95.5L768.7,92.6L774.3,88.9L781.9,87.9L787.5,86.0L784.7,80.4L787.5,74.7L797.0,72.8L793.2,68.1L785.7,70.9L778.1,70.0L774.3,63.4L776.2,56.8L785.7,53.0L795.1,48.3L800.8,40.8L804.5,36.0L812.1,33.2L823.4,15.3ZM732.8,70.9L742.3,70.0L747.9,69.1L746.0,74.7L749.8,78.5L755.5,86.0L761.1,90.8L760.2,95.5L751.7,96.4L742.3,97.4L738.5,95.5L744.2,92.6L742.3,87.9L738.5,84.2L736.6,78.5L732.8,76.6Z"/>
<path fill="#efcc7f" filter="url(#f1w)" d="M720.6,85.1L727.2,82.3L735.7,81.3L736.6,86.0L732.8,91.7L725.3,93.6L720.6,91.7Z"/>
<path fill="#ffffff" filter="url(#f4w)" d="M842.3,44.5L846.0,48.3L840.4,52.1L830.9,57.7L827.2,63.4L830.9,67.2L834.7,64.3L857.4,64.3L858.3,66.2L836.6,67.2L830.9,70.9L832.8,76.6L829.1,80.4L819.6,83.2L812.1,84.2L804.5,85.1L800.8,82.3L802.6,78.5L812.1,76.6L819.6,74.7L821.5,69.1L819.6,63.4L817.7,57.7L823.4,52.1L832.8,46.4ZM793.2,68.7L797.9,72.8L800.8,80.4L797.0,82.3L794.2,76.6ZM876.2,42.3L887.5,43.6L897.0,42.6L898.9,46.4L889.4,50.2L880.0,48.3ZM864.0,60.6L870.6,60.0L871.5,63.4L865.8,64.3ZM736.6,148.3L744.2,146.4L751.7,142.6L755.5,137.0L759.2,131.3L764.9,128.5L768.7,125.7L770.6,122.8L776.2,121.9L781.9,120.0L786.6,119.6L790.4,122.8L795.1,129.4L802.6,134.7L810.2,138.9L814.9,142.6L817.7,145.5L820.6,146.0L822.5,140.8L826.2,137.9L824.3,134.2L818.7,130.4L813.0,126.0L807.4,120.9L803.6,118.1L800.8,116.6L804.5,117.2L810.2,121.9L815.8,125.7L821.5,129.4L825.3,133.2L827.2,137.0L829.1,140.8L830.9,144.5L834.7,148.3L836.6,150.2L840.4,148.3L842.3,142.6L840.4,137.0L844.2,133.2L849.8,132.3L850.8,135.1L849.8,137.0L850.8,142.6L853.6,146.4L861.1,148.3L868.7,150.2L876.2,148.3L882.8,148.3L881.9,152.1L880.0,159.6L878.1,165.3L868.7,166.2L861.1,166.2L849.8,165.3L842.3,162.5L830.9,161.5L827.2,165.3L819.6,169.1L812.1,163.4L800.8,159.6L793.2,155.8L795.1,150.2L791.3,145.5L778.1,145.5L766.8,146.4L755.5,148.3L742.3,150.2ZM853.6,122.8L857.4,116.2L864.9,113.4L872.5,114.3L876.2,112.5L889.4,111.5L890.4,116.2L897.0,118.1L902.6,125.7L901.7,130.4L893.2,131.3L880.0,128.5L868.7,130.4L859.2,131.3L854.5,128.5ZM923.4,116.2L930.9,112.5L940.4,111.5L942.3,114.3L938.5,118.1L940.4,125.7L943.2,128.5L947.9,129.4L947.0,133.2L944.2,134.2L944.2,138.9L949.8,144.5L944.2,146.4L934.7,145.5L929.1,140.8L927.2,133.2L925.3,125.7L921.5,121.9ZM961.1,114.3L968.7,113.4L971.5,118.1L968.7,121.9L963.0,120.9ZM876.2,178.5L880.0,177.5L883.8,184.2L889.4,193.6L895.1,203.0L897.0,208.7L889.4,208.7L885.7,199.2L880.0,189.8ZM925.3,170.9L930.9,172.8L936.6,180.4L944.2,186.0L951.7,186.0L954.5,182.3L955.5,186.0L951.7,190.8L942.3,189.8L934.7,184.2L929.1,178.5ZM954.5,184.7L963.0,186.0L972.5,187.0L983.8,187.9L983.8,216.2L961.1,216.2L964.9,208.7L967.7,201.7L964.0,197.0L957.5,190.8Z"/>
<path fill="#8e99b7" d="M800.8,141.7L810.2,142.6L809.2,146.4L802.6,145.5ZM785.7,125.7L789.4,124.7L790.4,137.0L786.6,138.9ZM786.6,120.0L788.5,119.1L789.1,123.8L787.2,124.2ZM840.4,151.1L847.9,152.1L847.0,153.4L840.4,152.8ZM869.6,152.1L876.2,151.1L874.3,153.6L869.6,153.6ZM763.0,136.0L767.7,136.6L767.2,138.1L763.0,137.7ZM834.7,140.8L838.5,142.6L837.5,146.4L835.1,144.9Z"/>
<path fill="none" stroke="#8e99b7" stroke-width="1.6" stroke-linejoin="round" d="M680.0,44.5L689.4,42.6L704.5,42.6L708.3,46.4L702.6,50.2L691.3,53.0L683.8,51.1L680.0,48.3"/>
<path fill="#efcc7f" filter="url(#f1w)" d="M838.5,44.5L849.8,38.9L861.1,37.0L868.7,35.1L880.0,35.1L891.3,37.0L898.9,38.9L895.1,42.6L876.2,42.3L876.2,45.5L883.8,50.2L897.0,48.3L906.4,44.5L917.7,40.8L925.3,37.0L944.2,33.2L963.0,15.3L981.9,15.3L981.9,82.3L964.9,84.2L953.6,84.2L944.2,78.5L929.1,76.6L917.7,78.5L902.6,82.3L887.5,86.0L876.2,91.7L868.7,84.2L861.1,82.3L849.8,82.3L844.2,76.6L836.6,76.6L834.7,70.9L838.5,67.2L857.4,66.2L858.3,64.3L836.6,64.3L834.7,59.6L838.5,54.0L840.4,48.3ZM914.0,103.0L925.3,101.1L929.1,106.8L921.5,110.6L919.6,121.9L915.8,121.9L913.0,112.5ZM923.4,193.6L934.7,192.6L942.3,197.4L938.5,203.0L925.3,204.0ZM808.3,69.1L817.7,67.2L819.6,74.7L812.1,76.6L806.4,74.7Z"/>
<path fill="#a6845f" filter="url(#f2w)" d="M964.9,48.3L974.3,42.6L981.9,40.8L981.9,76.6L972.5,74.7L966.8,67.2L964.9,57.7ZM925.3,35.1L940.4,33.2L963.0,31.3L963.0,38.9L951.7,44.5L944.2,48.3L932.8,46.4L925.3,42.6ZM887.5,55.8L898.9,54.0L900.8,61.5L891.3,63.4ZM912.1,46.4L925.3,48.3L923.4,57.7L914.0,55.8ZM944.2,57.7L959.2,55.8L961.1,65.3L947.9,67.2ZM919.6,108.7L930.9,106.8L932.8,112.5L923.4,116.2L920.6,120.0ZM844.2,90.8L857.4,89.8L859.2,93.6L846.0,94.0Z"/>
<path fill="#90c97c" filter="url(#f6w)" d="M744.2,80.4L751.7,82.3L759.2,89.8L759.2,94.5L749.8,95.5L746.0,91.7L746.0,84.2ZM740.4,105.8L755.5,101.1L768.7,95.5L778.1,95.5L774.3,103.0L768.7,108.7L763.0,112.5L757.4,116.2L752.6,114.3L749.8,110.6L744.2,108.7ZM734.7,125.7L744.2,125.7L751.7,129.4L749.8,137.0L742.3,140.8L734.7,142.6L736.6,133.2ZM768.7,92.6L781.9,87.0L793.2,85.1L802.6,85.1L812.1,84.2L829.1,84.2L836.6,76.6L844.2,76.6L849.8,82.3L861.1,82.3L868.7,84.2L876.2,91.7L868.7,95.5L859.2,97.4L849.8,95.5L840.4,97.4L830.9,93.6L823.4,95.5L815.8,97.4L808.3,95.5L800.8,97.4L793.2,95.5L785.7,97.4L778.1,95.5L770.6,95.5ZM842.3,97.4L849.8,95.5L859.2,97.4L868.7,95.5L876.2,91.7L887.5,86.0L902.6,82.3L917.7,78.5L929.1,76.6L944.2,78.5L953.6,84.2L955.5,91.7L944.2,95.5L932.8,95.5L925.3,99.2L917.7,103.0L914.0,110.6L915.8,121.9L910.2,122.8L902.6,118.1L891.3,116.2L887.5,110.6L880.0,110.6L872.5,108.7L864.9,110.6L857.4,106.8L849.8,103.0L844.2,101.1ZM793.2,122.8L800.8,125.7L812.1,133.2L810.2,135.1L800.8,130.4L793.2,125.7ZM863.0,137.0L872.5,133.2L883.8,133.2L887.5,138.9L880.0,142.6L868.7,143.6L861.1,140.8ZM883.8,144.5L902.6,142.6L910.2,148.3L902.6,152.1L887.5,150.2ZM917.7,148.3L927.2,146.4L930.9,152.1L923.4,155.8ZM722.5,161.5L729.1,157.7L738.5,155.8L744.2,152.1L751.7,150.2L764.9,146.8L778.1,146.0L793.2,146.0L793.2,150.2L781.9,152.1L766.8,152.1L755.5,154.0L746.0,155.8L740.4,159.6L732.8,163.4L725.3,167.2ZM812.1,103.0L819.6,101.1L838.5,103.0L840.4,108.7L836.6,118.1L827.2,120.0L817.7,116.2ZM963.0,84.2L981.9,82.3L981.9,95.5L966.8,95.5Z"/>
<path fill="#35b04f" filter="url(#f5w)" d="M755.5,103.0L766.8,99.2L768.7,106.8L759.2,110.6ZM781.9,87.9L793.2,86.0L800.8,91.7L793.2,95.5L783.8,93.6ZM812.1,87.9L823.4,86.0L827.2,91.7L819.6,95.5L812.1,93.6ZM895.1,87.9L902.6,87.0L904.5,93.6L897.0,94.5ZM893.2,110.6L906.4,108.7L912.1,114.3L914.0,121.9L906.4,120.0L897.0,118.1ZM832.8,84.2L840.4,82.3L842.3,91.7L834.7,93.6Z"/>
<path fill="#0b5b20" filter="url(#f2w)" d="M751.7,85.1L757.4,89.8L755.5,92.6L751.7,89.8ZM819.6,106.8L830.9,104.9L836.6,106.8L834.7,114.3L827.2,118.1L819.6,114.3ZM836.6,76.6L842.3,75.7L843.2,81.3L837.5,82.3ZM868.7,95.5L874.3,94.5L876.2,99.2L870.6,100.2ZM889.4,112.5L897.0,110.6L902.6,114.3L897.0,117.2L891.3,116.6ZM964.9,84.2L981.9,83.2L981.9,93.6L966.8,93.6ZM787.5,88.9L793.2,87.9L794.2,91.7L788.5,92.6Z"/>
<path fill="#6a969d" filter="url(#f3w)" d="M784.7,73.8L793.2,74.7L795.1,82.3L785.7,84.2Z"/>
<path fill="#1c2f6b" filter="url(#f3w)" d="M783.8,115.3L793.2,114.3L800.8,116.2L799.8,120.0L793.2,119.1L784.7,119.1Z"/>
<path fill="#4f8a6a" filter="url(#f3w)" d="M838.5,118.1L849.8,115.3L855.5,118.1L849.8,121.9L840.4,121.9Z"/>
<path fill="#1c2f6b" filter="url(#f3w)" d="M861.1,165.3L868.7,165.3L866.8,169.4L863.0,169.4Z"/>
<path fill="#88bfe2" filter="url(#f3w)" d="M910.2,157.7L917.7,159.6L919.6,165.3L914.0,164.3Z"/>
<path fill="none" stroke="#8e99b7" stroke-width="0.8" stroke-linejoin="round" d="M725.3,167.2L734.7,163.4L744.2,159.6L750.8,160.6L751.7,152.1M697.0,197.4L713.0,196.4L714.0,186.0L725.3,182.3L726.2,174.7L746.0,163.4M726.2,181.3L763.0,204.9M734.7,187.9L733.8,208.7M782.8,152.1L787.5,163.4L791.3,167.2L790.4,180.4L795.1,189.8L808.3,197.4L815.8,193.6L844.2,208.7M763.0,204.9L780.0,201.1L795.1,190.8M843.2,164.3L844.2,208.7M844.2,197.4L885.7,197.4M810.2,195.5L810.2,208.7M880.0,165.3L876.2,176.6M881.9,152.1L887.5,155.8L898.9,152.1L906.4,150.2M880.0,159.6L887.5,163.4L895.1,160.6L906.4,169.1L923.4,172.8M912.1,137.0L915.8,148.3L921.5,157.7L925.3,169.1M883.8,150.2L898.9,148.3L912.1,146.4L912.1,137.0L917.7,133.2L925.3,135.1M944.2,146.4L953.6,142.6L963.0,140.8L974.3,148.3L981.9,150.2M974.3,148.3L976.2,163.4L981.9,170.9M902.6,208.7L932.8,201.1L944.2,197.4L951.7,189.8M727.2,125.7L726.2,142.6M751.7,122.8L764.9,125.7M917.7,103.0L925.3,95.5L944.2,95.5L955.5,91.7L981.9,95.5M947.9,125.7L957.4,133.2L963.0,125.7L974.3,133.2L981.9,137.0M774.3,95.5L778.1,104.9L780.0,112.5L785.7,114.3M797.0,95.5L800.8,103.0L812.1,103.0L815.8,97.4M812.1,103.0L815.8,110.6L830.9,114.3L838.5,118.1M842.3,95.5L846.0,103.0L857.4,106.8M823.4,38.9L827.2,48.3L840.4,48.3L842.3,44.5M800.8,40.8L808.3,54.0L812.1,67.2L808.3,72.8"/>
<path fill="#d2d3d4" filter="url(#f3w)" d="M697.0,198.1L887.5,198.1L891.3,209.4L895.1,217.0L898.9,222.6L904.5,230.2L908.3,234.9L910.2,237.7L917.7,238.7L929.1,235.8L936.6,234.9L934.7,241.5L930.9,249.1L923.4,258.5L915.8,267.9L908.3,275.5L900.8,283.0L897.0,290.6L895.1,298.1L897.0,305.7L898.9,313.2L898.9,322.6L897.0,330.2L889.4,335.8L883.8,341.5L880.0,347.2L878.1,352.8L880.0,360.4L876.2,366.0L870.6,369.8L868.7,377.4L864.9,388.7L819.6,388.7L815.8,377.4L810.2,369.8L808.3,360.4L804.5,350.9L800.8,343.4L797.9,335.8L798.9,326.4L802.6,318.9L803.6,311.3L800.8,301.9L797.9,294.3L793.2,288.7L788.5,283.0L789.4,277.4L791.3,269.8L789.4,264.2L785.7,261.3L778.1,260.4L774.3,256.6L768.7,254.7L761.1,255.7L751.7,256.6L740.4,256.6L730.9,260.4L725.3,258.5L717.7,252.8L710.2,247.2L704.5,239.6L697.9,232.1L695.1,224.5L697.9,217.0L696.0,209.4ZM800.8,300.0L895.1,300.0L897.9,315.1L898.9,328.3L893.2,334.0L885.7,339.6L878.1,347.2L880.9,352.8L880.0,360.4L872.5,364.2L871.5,369.8L868.7,375.5L863.0,383.0L855.5,390.6L847.9,394.3L836.6,396.2L825.3,398.1L820.6,394.3L817.7,383.0L812.1,371.7L808.3,360.4L802.6,347.2L798.9,335.8ZM964.9,198.1L964.9,200.0L961.1,207.5L953.6,213.2L944.2,218.9L932.8,224.5L921.5,228.3L912.1,231.1L908.3,228.3L904.5,218.9L898.9,209.4L895.1,198.1ZM908.3,352.8L912.1,335.8L919.6,330.2L925.3,324.5L930.0,318.9L933.8,328.3L930.9,339.6L927.2,350.9L923.4,360.4L915.8,366.0L910.2,362.3Z"/>
<path fill="#8e99b7" d="M944.2,231.1L947.9,231.3L947.9,232.8L944.2,232.6ZM957.4,346.2L959.2,346.2L959.2,348.1L957.4,348.1ZM950.4,349.6L952.3,349.6L952.3,351.5L950.4,351.5ZM778.5,274.7L780.0,274.7L780.0,276.6L778.5,276.6Z"/>
<path fill="#e4d3a8" filter="url(#f1w)" d="M698.9,232.1L708.3,234.0L717.7,243.4L727.2,252.8L730.9,258.5L725.3,258.5L717.7,252.8L710.2,247.2L704.5,239.6ZM770.6,250.9L781.9,252.8L785.7,258.5L778.1,260.4L772.5,256.6ZM815.8,235.8L829.1,234.0L832.8,239.6L825.3,245.3L815.8,243.4ZM844.2,237.7L857.4,235.8L868.7,239.6L876.2,247.2L876.2,256.6L868.7,258.5L863.0,252.8L853.6,247.2L846.0,243.4ZM812.1,271.7L819.6,266.0L830.9,267.9L838.5,271.7L846.0,275.5L847.9,283.0L842.3,286.8L830.9,284.9L823.4,288.7L815.8,286.8ZM849.8,262.3L859.2,262.3L859.2,267.9L851.7,267.9ZM829.1,315.1L836.6,317.0L840.4,324.5L838.5,335.8L832.8,334.0L830.9,324.5ZM846.0,324.5L855.5,322.6L857.4,332.1L847.9,334.0ZM878.1,339.6L885.7,337.7L880.0,347.2L876.2,345.3ZM874.3,350.9L880.0,352.8L878.1,362.3L874.3,360.4ZM864.9,292.5L872.5,294.3L870.6,300.0L864.9,298.1ZM883.8,301.9L893.2,300.0L895.1,309.4L887.5,311.3ZM788.5,275.5L793.2,277.4L793.2,284.9L789.4,283.0ZM921.5,199.1L944.2,199.1L940.4,205.7L925.3,204.7ZM814.0,213.2L823.4,213.2L825.3,220.8L815.8,220.8ZM914.0,335.8L929.1,328.3L925.3,350.9L917.7,354.7Z"/>
<path fill="#a6845f" filter="url(#f2w)" d="M812.1,273.6L819.6,267.9L830.9,269.8L827.2,275.5L823.4,283.0L815.8,283.0ZM864.9,249.1L874.3,247.2L876.2,254.7L868.7,258.5ZM772.5,252.8L780.0,254.7L782.8,259.4L776.2,259.4ZM711.1,241.5L716.8,242.5L715.8,249.1L712.1,247.2ZM829.1,316.0L834.7,315.1L836.6,322.6L838.5,330.2L833.8,330.2L830.9,322.6ZM858.3,313.2L863.0,313.2L863.0,318.9L859.2,318.9ZM849.8,326.4L854.5,325.5L855.5,331.1L850.8,332.1ZM819.6,242.5L827.2,241.5L826.2,246.2L820.6,246.2Z"/>
<path fill="#90c97c" filter="url(#f6w)" d="M695.1,222.6L700.8,218.9L704.5,224.5L700.8,228.3L696.0,227.4ZM721.5,223.6L732.8,226.4L742.3,230.2L736.6,234.0L727.2,230.2ZM768.7,234.0L778.1,224.5L789.4,224.5L800.8,228.3L804.5,235.8L800.8,243.4L793.2,245.3L789.4,252.8L783.8,254.7L781.9,247.2L774.3,245.3L768.7,241.5ZM751.7,237.7L763.0,235.8L764.9,249.1L755.5,250.9ZM804.5,241.5L815.8,243.4L819.6,247.2L812.1,248.1L804.5,245.3ZM861.1,228.3L868.7,224.5L883.8,222.6L883.8,232.1L876.2,235.8L866.8,234.0ZM840.4,235.8L849.8,234.0L853.6,237.7L844.2,239.6ZM885.7,232.1L893.2,224.5L897.0,230.2L895.1,243.4L897.0,250.9L889.4,250.9L885.7,241.5ZM868.7,267.9L876.2,269.8L883.8,275.5L889.4,279.2L887.5,284.9L880.0,283.0L876.2,290.6L870.6,294.3L866.8,288.7L868.7,281.1L866.8,275.5ZM880.0,292.5L885.7,294.3L884.7,300.0L880.0,299.1ZM844.2,369.8L851.7,367.9L861.1,367.9L859.2,375.5L849.8,377.4L844.2,375.5ZM802.6,326.4L810.2,324.5L809.2,329.2L803.6,330.2ZM872.5,322.6L880.0,324.5L882.8,332.1L876.2,332.1Z"/>
<path fill="#ffffff" filter="url(#f4w)" d="M868.7,277.4L874.3,276.4L875.3,281.1L870.6,283.0Z"/>
<path fill="#8e99b7" d="M802.6,225.5L810.2,227.4L809.2,231.1L803.6,230.2ZM858.3,283.0L860.2,283.0L861.1,298.1L859.2,298.1ZM873.4,311.3L876.2,311.3L877.2,324.5L874.3,324.5Z"/>
<path fill="none" stroke="#8e99b7" stroke-width="0.9" stroke-linejoin="round" d="M736.6,200.0L736.6,220.8L714.0,222.6M768.7,200.0L770.6,211.3L768.7,224.5L759.2,234.0M810.2,200.0L810.2,217.0L802.6,226.4M840.4,200.0L840.4,207.5L834.7,220.8L836.6,234.0L842.3,243.4L853.6,256.6L864.9,262.3L880.0,258.5L887.5,262.3L898.9,262.3L923.4,249.1M798.9,296.2L815.8,296.2L819.6,303.8L830.9,301.9L836.6,313.2L849.8,317.0L859.2,322.6M798.9,335.8L830.9,338.7L844.2,337.7L861.1,330.2L870.6,330.2M830.9,338.7L829.1,350.9L827.2,375.5L819.6,377.4M864.9,262.3L864.0,275.5L859.2,283.0M880.0,258.5L883.8,266.0L898.9,283.0M791.3,269.8L812.1,267.9L823.4,258.5L849.8,256.6M725.3,234.0L729.1,245.3L746.0,247.2L746.0,256.6M763.0,234.0L761.1,254.7M785.7,256.6L793.2,245.3L808.3,241.5M798.9,335.8L814.0,337.7L830.9,338.7L844.2,337.7L859.2,330.2L870.6,330.2M830.9,338.7L827.2,375.5L819.6,377.4M827.2,356.6L836.6,366.0L846.0,362.3L857.4,354.7L868.7,354.7L872.5,364.2M844.2,337.7L859.2,354.7M857.4,354.7L855.5,375.5L851.7,381.1M798.9,335.8L802.6,347.2L808.3,360.4L812.1,371.7L817.7,383.0L820.6,394.3L825.3,398.1L836.6,396.2L847.9,394.3L855.5,390.6L863.0,383.0L868.7,375.5L871.5,369.8L872.5,364.2L880.0,360.4L880.9,352.8L878.1,347.2L885.7,339.6L893.2,334.0L898.9,328.3L897.9,315.1"/>
<path fill="#d2d3d4" filter="url(#f3w)" d="M958.1,15.3L1110.9,15.3L1110.9,208.7L958.1,208.7ZM1100.0,15.3L1404.6,15.3L1404.6,46.4L1386.8,54.0L1379.2,57.7L1367.9,59.6L1358.5,63.4L1350.9,65.3L1341.5,67.2L1334.0,69.1L1330.2,72.8L1326.4,82.3L1318.9,87.9L1311.3,93.6L1307.5,95.5L1305.7,87.9L1303.8,78.5L1307.5,72.8L1317.0,69.1L1326.4,61.5L1334.0,55.8L1326.4,56.8L1318.9,60.6L1307.5,65.3L1300.0,67.2L1288.7,67.2L1269.8,67.2L1258.5,69.1L1250.9,74.7L1243.4,80.4L1235.8,82.3L1243.4,85.1L1250.9,89.8L1252.8,95.5L1250.9,103.0L1243.4,112.5L1235.8,120.0L1228.3,123.8L1220.8,125.7L1213.2,128.5L1205.7,133.2L1198.1,135.1L1205.7,140.8L1211.3,148.3L1210.4,154.0L1201.9,154.9L1200.0,148.3L1196.2,140.8L1194.3,137.0L1188.7,137.0L1183.0,136.0L1175.5,137.9L1171.7,140.8L1175.5,144.5L1183.0,143.6L1186.8,146.4L1181.1,150.2L1175.5,152.1L1179.2,157.7L1184.0,165.3L1183.0,172.8L1179.2,180.4L1173.6,187.9L1166.0,193.6L1158.5,197.4L1147.2,199.2L1139.6,202.1L1135.8,208.7L1100.0,208.7ZM1255.7,86.0L1259.4,85.1L1260.4,93.6L1264.2,103.0L1260.4,104.0L1256.6,97.4L1254.7,91.7ZM1254.7,116.2L1260.4,118.1L1266.0,121.9L1279.2,116.2L1284.9,113.4L1285.8,115.3L1277.4,119.1L1267.9,123.8L1262.3,128.5L1256.6,127.5L1253.8,121.9ZM1213.2,159.6L1217.0,155.8L1224.5,152.1L1235.8,150.2L1243.4,144.5L1249.1,138.9L1249.1,131.3L1252.8,129.4L1255.7,133.2L1255.7,140.8L1250.9,148.3L1249.1,152.1L1239.6,154.0L1232.1,155.8L1224.5,159.6L1218.9,161.5L1217.0,166.2L1213.2,165.3Z"/>
<path fill="#dfe1e6" filter="url(#f3w)" d="M1179.2,188.9L1184.0,187.0L1184.9,192.6L1182.1,198.3L1179.2,195.5Z"/>
<path fill="none" stroke="#8e99b7" stroke-width="0.9" stroke-linejoin="round" d="M1179.2,188.9L1184.0,187.0L1184.9,192.6L1182.1,198.3L1179.2,195.5L1179.2,188.9"/>
<path fill="#8e99b7" d="M1338.7,81.3L1342.5,81.9L1342.1,83.4L1338.7,82.8ZM1363.2,89.4L1366.0,89.8L1365.7,91.1L1363.2,90.8ZM1300.0,100.8L1302.3,100.2L1302.8,101.5L1300.4,102.3Z"/>
<path fill="#ffffff" filter="url(#f4w)" d="M954.5,184.7L965.7,186.0L977.9,187.5L977.9,216.2L960.8,216.2L967.0,201.7L964.0,197.0L957.5,190.8Z"/>
<path fill="#efcc7f" filter="url(#f1w)" d="M958.1,15.3L1073.2,15.3L1077.0,38.9L1084.5,44.5L1103.4,42.6L1110.9,31.3L1148.7,31.3L1167.5,38.9L1186.4,31.3L1199.6,31.3L1201.5,48.3L1237.4,53.0L1235.5,57.7L1205.3,57.7L1186.4,57.7L1167.5,54.0L1148.7,57.7L1139.2,67.2L1129.8,72.8L1120.4,82.3L1110.9,84.2L1103.4,76.6L1092.1,74.7L1082.6,76.6L1073.2,78.5L1065.7,80.4L1061.9,86.0L1054.3,91.7L1044.9,99.2L1035.5,97.4L1026.0,95.5L1016.6,99.2L1009.1,95.5L997.7,91.7L988.3,95.5L978.9,91.7L969.4,93.6L958.1,95.5Z"/>
<path fill="#e4d3a8" filter="url(#f1w)" d="M1071.3,116.2L1080.8,103.0L1092.1,101.1L1107.2,106.8L1120.4,108.7L1129.8,103.0L1141.1,104.9L1148.7,99.2L1160.0,97.4L1171.3,99.2L1178.9,103.0L1175.1,112.5L1167.5,118.1L1160.0,125.7L1148.7,129.4L1137.4,127.5L1126.0,127.5L1114.7,123.8L1103.4,121.9L1092.1,120.0L1080.8,120.0Z"/>
<path fill="#efcc7f" filter="url(#f1w)" d="M1186.4,84.2L1243.0,82.3L1250.6,95.5L1243.0,108.7L1231.7,116.2L1224.2,110.6L1214.7,103.0L1205.3,99.2L1195.8,99.2ZM975.1,114.3L997.7,115.3L999.6,119.1L977.0,118.1Z"/>
<path fill="#d2d3d4" filter="url(#f3w)" d="M1077.0,31.3L1107.2,15.3L1110.9,38.9L1103.4,44.5L1092.1,57.7L1088.3,69.1L1080.8,65.3L1082.6,54.0L1078.9,42.6ZM1148.7,59.6L1167.5,55.8L1186.4,59.6L1205.3,59.6L1205.3,76.6L1186.4,82.3L1167.5,80.4L1148.7,76.6L1141.1,69.1Z"/>
<path fill="#a6845f" filter="url(#f2w)" d="M967.5,52.1L975.1,44.5L986.4,40.8L997.7,42.6L1009.1,41.7L1016.6,38.9L1026.0,35.1L1035.5,37.0L1043.0,40.8L1054.3,38.9L1065.7,37.0L1069.4,42.6L1067.5,52.1L1073.2,57.7L1078.9,65.3L1080.8,72.8L1073.2,76.6L1065.7,74.7L1058.1,78.5L1050.6,76.6L1044.9,80.4L1035.5,82.3L1026.0,80.4L1016.6,78.5L1007.2,80.4L997.7,76.6L988.3,76.6L978.9,74.7L971.3,70.9L967.5,63.4ZM1163.8,42.6L1186.4,38.9L1197.7,46.4L1205.3,52.1L1237.4,53.0L1237.4,55.8L1205.3,56.8L1186.4,54.0L1177.0,50.2L1167.5,48.3ZM1190.2,86.0L1205.3,84.2L1216.6,89.8L1212.8,97.4L1203.4,95.5L1194.0,93.6ZM1224.2,103.0L1237.4,99.2L1239.2,104.9L1227.9,108.7ZM960.0,31.3L965.7,35.1L963.8,50.2L960.0,54.0ZM1070.4,133.2L1077.0,132.3L1077.0,135.5L1071.3,136.0Z"/>
<path fill="#90c97c" filter="url(#f6w)" d="M961.9,86.0L971.3,81.3L988.3,81.3L1007.2,79.4L1022.3,81.3L1035.5,83.2L1046.8,81.3L1060.0,83.2L1060.0,92.6L1048.7,95.5L1041.1,97.4L1031.7,91.7L1016.6,91.7L1007.2,95.5L997.7,97.4L988.3,99.2L978.9,93.6L969.4,95.5L961.9,93.6ZM1116.6,150.2L1129.8,148.3L1144.9,152.1L1141.1,155.8L1126.0,155.8ZM1122.3,165.3L1133.6,165.3L1135.5,170.9L1126.0,172.8ZM1177.0,125.7L1184.5,121.9L1186.4,131.3L1178.9,133.2ZM1205.3,114.3L1214.7,110.6L1224.2,114.3L1216.6,120.0L1207.2,121.9ZM1069.4,78.5L1077.0,77.5L1077.9,82.3L1071.3,83.2Z"/>
<path fill="#35b04f" filter="url(#f5w)" d="M963.8,86.0L971.3,83.2L988.3,83.2L1007.2,81.3L1022.3,83.2L1035.5,85.1L1046.8,83.2L1058.1,85.1L1058.1,91.3L1048.7,93.2L1041.1,95.1L1031.7,89.4L1016.6,89.4L1007.2,93.2L997.7,95.1L988.3,96.4L978.9,91.3L969.4,93.2L963.8,91.3Z"/>
<path fill="#0b5b20" filter="url(#f2w)" d="M971.3,85.1L988.3,84.2L1007.2,82.3L1020.4,84.2L1016.6,88.3L1007.2,90.2L997.7,91.7L988.3,92.6L978.9,89.8ZM1031.7,85.1L1046.8,84.2L1056.2,86.0L1054.3,90.8L1044.9,92.6L1035.5,88.9ZM1182.6,114.3L1186.4,106.8L1194.0,101.1L1203.4,101.1L1207.2,108.7L1203.4,118.1L1197.7,123.8L1190.2,129.4L1184.5,131.3L1184.5,121.9ZM1212.8,110.6L1224.2,106.8L1227.9,110.6L1220.4,114.3L1214.7,114.3Z"/>
<path fill="#1f6b55" filter="url(#f3w)" d="M1150.6,159.6L1163.8,152.1L1171.3,163.4L1163.8,169.1L1154.3,167.2Z"/>
<path fill="#88bfe2" filter="url(#f3w)" d="M1160.0,140.8L1167.5,137.0L1173.2,140.8L1171.3,150.2L1163.8,152.1L1158.1,148.3Z"/>
<path fill="#2a3a92" filter="url(#f3w)" d="M1167.5,152.1L1175.1,150.2L1180.8,155.8L1184.5,163.4L1182.6,169.1L1175.1,167.2L1169.4,163.4L1165.7,157.7ZM1148.7,167.2L1156.2,169.1L1156.2,173.8L1150.6,175.7Z"/>
<path fill="#88bfe2" filter="url(#f3w)" d="M994.0,131.3L1009.1,129.4L1014.7,133.2L1005.3,137.0L995.8,136.0Z"/>
<path fill="#ffffff" filter="url(#f4w)" d="M961.9,114.3L969.4,112.5L972.3,118.1L968.5,121.9L962.8,120.9ZM1129.8,91.7L1139.2,82.3L1143.0,80.4L1142.1,84.2L1133.6,92.6Z"/>
<path fill="#8e99b7" d="M1015.7,112.5L1031.7,110.6L1033.6,112.5L1018.5,115.3Z"/>
<path fill="#ffffff" filter="url(#f4w)" d="M1009.1,40.8L1013.8,33.2L1014.7,15.3L1017.5,15.3L1016.6,35.1L1012.8,41.7ZM960.0,30.9L967.5,32.3L967.5,34.2L960.0,34.2ZM992.1,31.3L997.7,33.2L996.8,35.1L992.1,34.2Z"/>
<path fill="#efcc7f" filter="url(#f1w)" d="M1254.7,33.2L1269.8,15.3L1288.7,15.3L1307.5,15.3L1326.4,31.3L1330.2,38.9L1318.9,37.0L1307.5,35.1L1296.2,38.9L1288.7,46.4L1281.1,42.6L1269.8,38.9L1258.5,37.0ZM1345.3,52.1L1352.8,48.3L1364.2,44.5L1375.5,42.6L1388.7,44.5L1386.8,50.2L1375.5,50.2L1364.2,51.1L1352.8,55.8L1343.4,56.8ZM1304.7,78.5L1309.4,72.8L1318.9,68.1L1326.4,69.1L1328.3,74.7L1322.6,80.4L1315.1,86.0L1307.5,91.7ZM1232.1,86.0L1243.4,85.1L1250.9,89.8L1250.9,95.5L1239.6,95.5L1234.0,91.7Z"/>
<path fill="#a6845f" filter="url(#f2w)" d="M1258.5,34.2L1269.8,32.3L1281.1,35.1L1288.7,31.3L1307.5,15.3L1324.5,32.3L1326.4,36.0L1307.5,34.2L1296.2,37.9L1288.7,44.5L1283.0,41.7L1269.8,37.9ZM1347.2,53.0L1354.7,49.2L1364.2,46.4L1375.5,44.5L1386.8,46.4L1383.0,49.2L1364.2,50.2L1352.8,54.9ZM1258.5,64.7L1300.0,64.7L1300.0,67.2L1258.5,67.2ZM1228.3,101.1L1237.7,99.2L1239.6,104.9L1232.1,108.7ZM1254.7,86.0L1259.4,86.0L1260.4,95.5L1256.6,95.5ZM1313.2,76.6L1322.6,70.9L1325.5,74.7L1317.0,80.4Z"/>
<path fill="#2a3a92" filter="url(#f3w)" d="M1126.4,201.1L1132.1,201.1L1131.1,205.8L1126.4,205.8Z"/>
<path fill="none" stroke="#8e99b7" stroke-width="1.0" stroke-linejoin="round" d="M1213.2,159.6L1217.0,155.8L1224.5,152.1L1235.8,150.2L1243.4,144.5L1249.1,138.9L1249.1,131.3L1252.8,129.4L1255.7,133.2L1255.7,140.8L1250.9,148.3L1249.1,152.1L1239.6,154.0L1232.1,155.8L1224.5,159.6L1218.9,161.5L1217.0,166.2L1213.2,165.3L1213.2,159.6M1198.1,135.1L1205.7,140.8L1211.3,148.3L1210.4,154.0L1201.9,154.9L1200.0,148.3L1196.2,140.8L1194.3,137.0"/>
<path fill="none" stroke="#8e99b7" stroke-width="0.8" stroke-linejoin="round" d="M960.0,95.5L978.9,93.6L997.7,99.2L1016.6,101.1L1035.5,99.2L1046.8,95.5L1058.1,99.2L1073.2,95.5L1092.1,97.4L1103.4,91.7L1120.4,95.5L1129.8,99.2L1148.7,103.0L1163.8,99.2L1177.0,91.7L1190.2,87.9L1205.3,95.5L1216.6,104.9L1227.9,110.6L1231.7,118.1L1227.9,125.7M1065.7,103.0L1073.2,118.1L1092.1,120.0L1107.2,127.5L1126.0,129.4L1141.1,125.7L1148.7,118.1L1163.8,114.3L1177.0,103.0L1177.0,91.7M1046.8,95.5L1050.6,104.9L1041.1,114.3L1043.0,125.7L1035.5,133.2L1039.2,140.8M960.0,125.7L978.9,127.5L997.7,133.2L1016.6,129.4L1035.5,133.2M978.9,127.5L984.5,140.8M1016.6,129.4L1022.3,140.8"/>
<path fill="#efcc7f" filter="url(#f1w)" d="M1007.2,92.6L1022.3,90.8L1035.5,93.6L1046.8,95.5L1044.9,103.0L1031.7,104.0L1016.6,101.1L1009.1,97.4Z"/>
<path fill="#d2d3d4" filter="url(#f3w)" d="M1098.1,198.1L1132.1,198.1L1135.8,207.5L1139.6,215.1L1140.6,224.5L1139.6,232.1L1135.8,235.8L1130.2,237.7L1126.4,244.3L1123.6,239.6L1122.6,234.0L1117.0,230.2L1111.3,228.3L1108.5,222.6L1105.7,217.0L1103.8,224.5L1104.7,234.0L1105.7,243.4L1109.4,250.9L1115.1,254.7L1118.9,260.4L1121.7,267.9L1123.6,272.6L1119.8,270.8L1114.2,264.2L1107.5,256.6L1102.8,248.1L1100.9,237.7L1098.1,230.2Z"/>
<path fill="#dfe1e6" filter="url(#f3w)" d="M1138.7,202.8L1145.3,201.9L1146.8,208.5L1143.4,212.3L1139.2,210.4Z"/>
<path fill="none" stroke="#8e99b7" stroke-width="0.9" stroke-linejoin="round" d="M1138.7,202.8L1145.3,201.9L1146.8,208.5L1143.4,212.3L1139.2,210.4L1138.7,202.8"/>
<path fill="#90c97c" filter="url(#f6w)" d="M1112.3,213.2L1122.6,210.4L1130.2,217.0L1132.1,226.4L1128.3,232.1L1120.8,230.2L1113.2,224.5Z"/>
<path fill="#35b04f" filter="url(#f5w)" d="M1115.1,214.2L1122.6,212.3L1127.4,218.9L1122.6,224.5L1116.0,222.6Z"/>
<path fill="#2a3a92" filter="url(#f3w)" d="M1106.6,215.1L1111.3,217.0L1110.4,226.4L1106.6,224.5ZM1123.6,236.8L1130.2,235.8L1128.3,243.4L1124.5,242.5Z"/>
<path fill="#efcc7f" filter="url(#f1w)" d="M1126.4,226.4L1133.0,226.4L1133.0,232.1L1127.4,232.5Z"/>
<path fill="#2a3a92" filter="url(#f3w)" d="M1127.4,200.9L1132.1,200.9L1132.1,205.3L1127.9,205.3Z"/>
<path fill="#d2d3d4" filter="url(#f3w)" d="M1110.4,253.8L1117.0,256.6L1122.6,264.2L1124.5,272.6L1120.8,272.6L1113.2,266.0L1108.5,258.5Z"/>
<path fill="#efcc7f" filter="url(#f1w)" d="M1094.3,260.4L1100.0,259.4L1107.5,266.0L1115.1,272.6L1122.6,279.2L1130.2,283.0L1131.1,288.7L1128.3,294.3L1124.5,296.2L1118.9,290.6L1113.2,283.0L1107.5,275.5L1101.9,267.9L1097.2,264.2Z"/>
<path fill="#a6845f" filter="url(#f2w)" d="M1105.7,267.9L1113.2,271.7L1120.8,279.2L1128.3,284.9L1130.2,290.6L1124.5,292.5L1118.9,284.9L1111.3,277.4Z"/>
<path fill="#8e99b7" d="M1126.4,297.2L1135.8,298.1L1147.2,300.9L1156.6,301.9L1156.6,304.7L1145.3,304.2L1134.0,301.9L1127.4,300.0Z"/>
<path fill="#0b5b20" filter="url(#f2w)" d="M1145.3,300.9L1150.9,301.5L1150.6,303.8L1145.7,303.4Z"/>
<path fill="#8e99b7" d="M1158.5,303.8L1173.6,305.7L1173.6,307.5L1158.5,306.0ZM1188.7,311.3L1200.0,305.7L1201.9,307.5L1190.6,314.2ZM1175.5,309.4L1181.1,310.4L1180.2,312.3L1175.5,311.7Z"/>
<path fill="#d2d3d4" filter="url(#f3w)" d="M1139.6,271.7L1149.1,267.9L1156.6,260.4L1164.2,252.8L1167.9,251.9L1173.6,256.6L1169.8,262.3L1171.7,269.8L1169.8,277.4L1164.2,284.9L1160.4,290.6L1154.7,286.8L1145.3,286.8L1141.5,281.1Z"/>
<path fill="#efcc7f" filter="url(#f1w)" d="M1140.0,272.6L1150.9,274.5L1160.4,275.5L1169.8,271.7L1169.8,277.4L1164.2,284.9L1160.4,290.2L1154.7,286.4L1145.3,286.4L1141.5,281.1Z"/>
<path fill="#a6845f" filter="url(#f2w)" d="M1145.3,281.1L1162.3,279.2L1164.2,284.9L1160.4,288.7L1154.7,285.8L1146.2,285.8Z"/>
<path fill="none" stroke="#8e99b7" stroke-width="1.3" stroke-linejoin="round" d="M1175.5,283.0L1179.2,273.6L1188.7,271.7L1196.2,270.8L1196.2,272.6L1186.8,274.5L1181.1,277.4L1181.1,283.0L1188.7,279.2L1189.6,282.1L1184.0,285.8L1185.8,294.3L1183.0,294.3L1181.1,288.7L1178.3,296.2L1176.4,292.5L1175.5,283.0"/>
<path fill="#e3e6ea" filter="url(#f3w)" d="M1175.5,283.0L1179.2,273.6L1188.7,271.7L1196.2,270.8L1196.2,272.6L1186.8,274.5L1181.1,277.4L1181.1,283.0L1188.7,279.2L1189.6,282.1L1184.0,285.8L1185.8,294.3L1183.0,294.3L1181.1,288.7L1178.3,296.2L1176.4,292.5Z"/>
<path fill="#dde0e4" filter="url(#f3w)" d="M1179.2,211.3L1184.9,211.3L1185.8,217.0L1183.0,220.8L1184.0,226.4L1181.1,225.5L1179.2,218.9Z"/>
<path fill="none" stroke="#8e99b7" stroke-width="0.9" stroke-linejoin="round" d="M1179.2,211.3L1184.9,211.3L1185.8,217.0L1183.0,220.8L1184.0,226.4L1181.1,225.5L1179.2,218.9L1179.2,211.3M1186.8,228.3L1196.2,232.1L1198.1,237.7L1192.5,239.6L1186.8,228.3"/>
<path fill="#dcdcd2" filter="url(#f3w)" d="M1192.5,243.4L1200.0,242.5L1200.9,250.9L1196.2,255.7L1192.5,252.8L1188.7,249.1Z"/>
<path fill="none" stroke="#8e99b7" stroke-width="0.9" stroke-linejoin="round" d="M1192.5,243.4L1200.0,242.5L1200.9,250.9L1196.2,255.7L1192.5,252.8L1188.7,249.1L1192.5,243.4"/>
<path fill="none" stroke="#8e99b7" stroke-width="2.0" stroke-linejoin="round" d="M1168.9,245.8L1176.4,237.2"/>
<path fill="#d2d3d4" filter="url(#f3w)" d="M1215.1,277.4L1222.6,278.3L1228.3,283.0L1235.8,283.0L1241.5,281.1L1250.9,284.0L1260.4,287.7L1267.9,292.5L1273.6,298.1L1279.2,305.7L1286.8,310.4L1284.9,313.2L1277.4,311.3L1271.7,305.7L1264.2,305.7L1256.6,308.5L1249.1,307.5L1241.5,304.7L1243.4,298.1L1237.7,292.5L1230.2,290.6L1224.5,288.7L1218.9,283.0Z"/>
<path fill="#efcc7f" filter="url(#f1w)" d="M1217.0,278.3L1226.4,279.2L1228.3,286.8L1222.6,288.7ZM1234.0,284.9L1250.9,284.9L1264.2,290.6L1267.9,303.8L1256.6,307.9L1245.3,307.5L1239.6,298.1Z"/>
<path fill="#a6845f" filter="url(#f2w)" d="M1241.5,294.3L1250.9,294.3L1260.4,298.1L1264.2,303.8L1254.7,307.5L1245.3,304.7Z"/>
<path fill="none" stroke="#8e99b7" stroke-width="1.3" stroke-linejoin="round" d="M1277.4,296.2L1288.7,294.3L1293.4,288.7L1290.6,284.9L1294.3,288.7L1293.4,294.3L1286.8,298.1L1279.2,298.1L1277.4,296.2"/>
<path fill="#8e99b7" d="M1204.7,267.9L1208.5,267.0L1209.4,275.5L1205.7,279.2ZM1200.0,287.7L1215.1,286.8L1215.1,289.1L1200.0,289.6ZM1228.3,296.2L1230.6,296.6L1229.8,300.0L1227.9,299.6Z"/>
<path fill="#d2d3d4" filter="url(#f3w)" d="M1156.6,354.7L1160.4,350.9L1171.7,347.2L1181.1,344.3L1186.8,339.6L1188.7,334.0L1196.2,330.2L1200.0,327.4L1207.5,328.3L1213.2,321.7L1220.8,317.9L1232.1,318.9L1235.8,324.5L1234.0,328.3L1239.6,334.0L1247.2,337.7L1250.9,338.7L1253.8,332.1L1254.7,320.8L1257.5,315.1L1260.4,322.6L1266.0,328.3L1267.9,335.8L1271.7,343.4L1277.4,349.1L1284.9,356.6L1290.6,362.3L1295.3,366.0L1296.2,375.5L1295.3,383.0L1292.5,390.6L1288.7,398.1L1284.9,405.7L1281.1,409.4L1273.6,410.4L1269.8,413.2L1262.3,411.3L1256.6,411.3L1250.9,409.4L1247.2,403.8L1243.4,398.1L1241.5,401.9L1237.7,401.9L1239.6,394.3L1235.8,398.1L1232.1,396.2L1228.3,390.6L1220.8,388.7L1213.2,387.7L1205.7,389.6L1198.1,390.6L1190.6,394.3L1183.0,394.3L1175.5,396.2L1169.8,399.1L1164.2,398.1L1160.4,394.3L1161.3,386.8L1158.5,379.2L1155.7,371.7L1153.8,366.0L1155.7,360.4Z"/>
<path fill="#dfe2e6" filter="url(#f3w)" d="M1265.1,419.8L1271.7,418.9L1278.3,417.9L1277.4,424.5L1273.6,429.2L1268.9,428.3L1266.0,424.5Z"/>
<path fill="none" stroke="#8e99b7" stroke-width="1.2" stroke-linejoin="round" d="M1265.1,419.8L1271.7,418.9L1278.3,417.9L1277.4,424.5L1273.6,429.2L1268.9,428.3L1266.0,424.5L1265.1,419.8"/>
<path fill="#d9dbdc" filter="url(#f3w)" d="M1364.2,398.1L1367.9,400.0L1371.7,406.6L1377.4,409.4L1383.0,409.4L1383.0,413.2L1377.4,417.0L1375.5,421.7L1371.7,420.8L1369.8,415.1L1370.8,409.4L1367.0,403.8ZM1343.4,436.8L1349.1,432.1L1354.7,428.3L1362.3,422.6L1367.9,419.8L1368.9,423.6L1364.2,428.3L1360.4,432.1L1354.7,436.8L1349.1,440.6L1345.3,440.6Z"/>
<path fill="#8e99b7" d="M1333.0,347.2L1335.8,348.1L1343.4,352.8L1342.5,354.7L1335.8,350.9ZM1379.2,337.7L1384.0,336.8L1384.9,339.6L1380.2,340.6ZM1384.9,334.0L1404.6,333.0L1404.6,334.9L1385.3,335.5ZM1342.5,328.3L1344.3,329.2L1347.2,334.0L1345.3,334.0ZM1307.5,301.9L1311.3,303.8L1310.4,305.3L1307.2,303.4ZM1317.0,307.5L1321.7,310.4L1320.8,311.7L1316.6,309.1Z"/>
<path fill="#efcc7f" filter="url(#f1w)" d="M1277.4,371.7L1284.9,369.8L1288.7,375.5L1286.8,381.1L1281.1,384.9L1276.4,379.2ZM1271.7,352.8L1277.4,350.9L1283.0,358.5L1279.2,362.3L1273.6,358.5ZM1253.8,332.1L1254.7,320.8L1257.5,315.1L1260.4,322.6L1261.3,334.0L1256.6,336.8ZM1213.2,321.7L1220.8,317.9L1232.1,318.9L1230.2,324.5L1220.8,325.5L1215.1,326.4ZM1247.2,337.7L1258.5,339.6L1256.6,347.2L1249.1,345.3ZM1264.2,390.6L1266.0,384.9L1269.8,383.0L1271.7,388.7L1266.0,394.3Z"/>
<path fill="#90c97c" filter="url(#f6w)" d="M1158.5,375.5L1164.2,377.4L1169.8,381.1L1175.5,384.9L1177.4,392.5L1173.6,396.2L1167.9,398.1L1164.2,397.2L1161.3,390.6L1160.4,383.0ZM1230.2,392.5L1235.8,394.3L1243.4,396.2L1249.1,398.1L1256.6,398.1L1264.2,400.0L1269.8,394.3L1275.5,388.7L1279.2,390.6L1277.4,398.1L1273.6,403.8L1267.9,405.7L1262.3,409.4L1256.6,410.4L1250.9,408.5L1247.2,403.8L1241.5,398.1L1235.8,397.2Z"/>
<path fill="#35b04f" filter="url(#f5w)" d="M1254.7,400.0L1262.3,400.0L1262.3,407.5L1256.6,407.5Z"/>
<path fill="#0b5b20" filter="url(#f2w)" d="M1278.3,376.4L1284.0,375.5L1285.8,380.2L1281.1,383.0L1278.3,381.1Z"/>
<path fill="#ffffff" filter="url(#f4w)" d="M1237.7,395.3L1240.6,394.3L1240.6,400.9L1238.7,401.9Z"/>
<use href="#pb" transform="matrix(0.35475 0 0 0.35868 253.958 -160.818)"/>
<use href="#pc" transform="matrix(0.37557 0 0 0.34627 225.976 97.258)"/>
<use href="#pd" transform="matrix(0.34997 0 0 0.32251 613.990 -59.172)"/>
</g>
<rect x="318.7" y="62.1" width="181.1" height="130.2" fill="none" stroke="#111" stroke-width="1.1"/>
<rect x="497.4" y="312.5" width="107.3" height="125.8" fill="none" stroke="#111" stroke-width="1.1"/>
<rect x="977.4" y="141.3" width="122.0" height="117.2" fill="none" stroke="#111" stroke-width="1.1"/>
<use href="#pb"/><use href="#pc"/><use href="#pd"/>
<rect x="182.5" y="621.5" width="510.5" height="363.0" fill="none" stroke="#111" stroke-width="1.2"/>
<rect x="722.7" y="621.6" width="285.7" height="363.3" fill="none" stroke="#111" stroke-width="1.2"/>
<rect x="1038.4" y="621.6" width="348.6" height="363.4" fill="none" stroke="#111" stroke-width="1.2"/>
<rect x="800.9" y="414.1" width="68.0" height="25.6" fill="#b9bfd0"/>
<rect x="878.0" y="414.1" width="69.0" height="25.6" fill="#f0cd7e"/>
<rect x="956.0" y="414.1" width="67.8" height="25.6" fill="#a98664"/>
<rect x="800.9" y="448.0" width="68.0" height="25.6" fill="#8fc97d"/>
<rect x="878.0" y="448.0" width="69.0" height="25.6" fill="#5cba56"/>
<rect x="956.0" y="448.0" width="67.8" height="25.6" fill="#267839"/>
<rect x="800.9" y="481.9" width="68.0" height="25.9" fill="#86c1e6"/>
<rect x="878.0" y="481.9" width="69.0" height="25.9" fill="#06508f"/>
<rect x="956.0" y="481.9" width="67.8" height="25.9" fill="#05235b"/>
<text x="746.1" y="432.8" font-size="19.5px" textLength="46.5" lengthAdjust="spacing">None</text>
<text x="724.1" y="466.6" font-size="19.5px" textLength="68.5" lengthAdjust="spacing">Dryland</text>
<text x="718.3" y="500.0" font-size="19.5px" textLength="74.3" lengthAdjust="spacing">Irrigated</text>
<text x="810.7" y="529.2" font-size="19.5px" textLength="47.0" lengthAdjust="spacing">Deep</text>
<text x="876.4" y="529.2" font-size="19.5px" textLength="70.6" lengthAdjust="spacing">Shallow</text>
<text x="966.8" y="529.2" font-size="19.5px" textLength="39.2" lengthAdjust="spacing">Very</text>
<text x="952.5" y="551.0" font-size="19.5px" textLength="67.8" lengthAdjust="spacing">shallow</text>
<text x="820.7" y="577.2" font-size="19.5px" textLength="175.0" lengthAdjust="spacing">Groundwater depth</text>
<text transform="translate(702.3 512.3) rotate(-90)" font-size="19.5px" textLength="99.7" lengthAdjust="spacing">Agriculture</text>
<text class="lab" transform="translate(181.0 24.5) scale(1.0 1)">a</text>
<text class="lab" transform="translate(180.0 611.9) scale(1.1 1)">b</text>
<text class="lab" transform="translate(721.0 611.9) scale(1.1 1)">c</text>
<text class="lab" transform="translate(1036.6 611.9) scale(1.1 1)">d</text>
</svg></body></html>
